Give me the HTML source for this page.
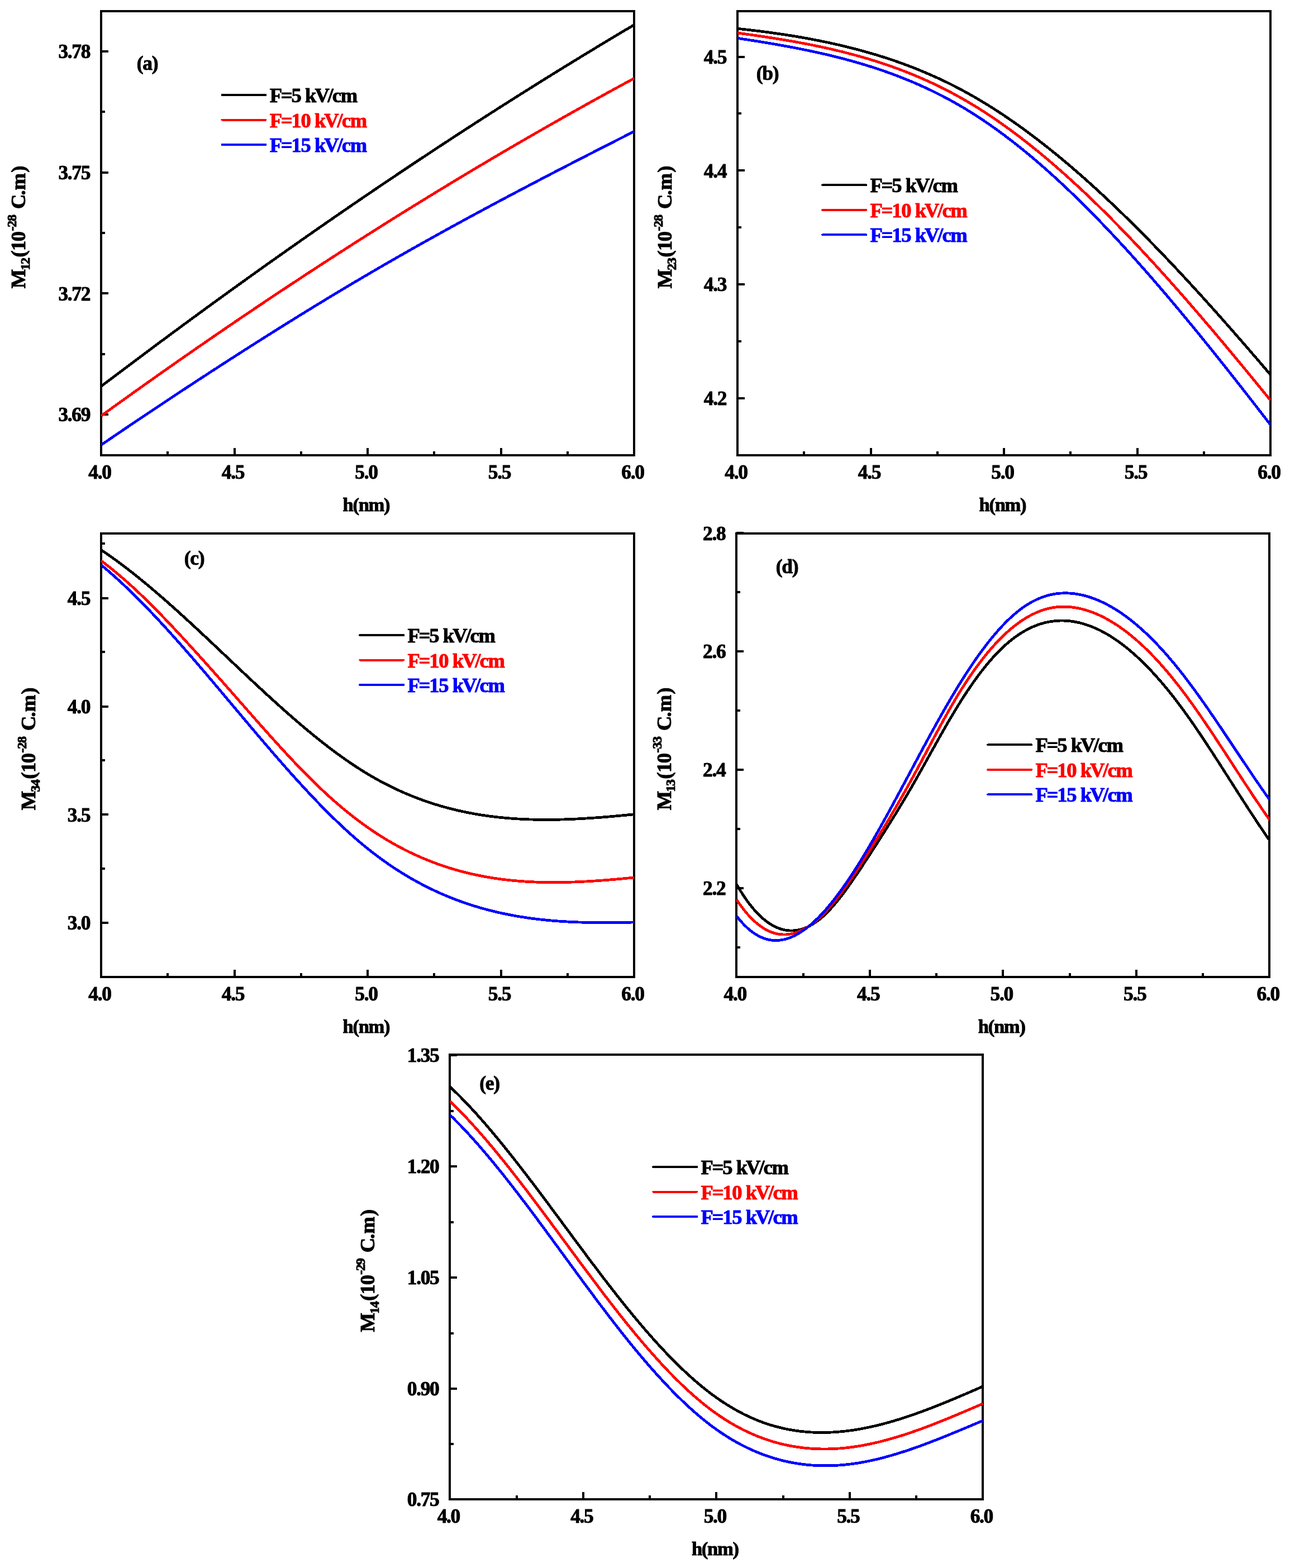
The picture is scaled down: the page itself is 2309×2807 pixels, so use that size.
<!DOCTYPE html>
<html lang="en"><head><meta charset="utf-8"><title>Dipole matrix elements versus h</title>
<style>
html,body{margin:0;padding:0;background:#fff;}
body{width:2309px;height:2807px;overflow:hidden;}
svg{display:block;}
text{font-family:"Liberation Serif", "DejaVu Serif", serif;font-weight:bold;font-size:36.5px;letter-spacing:-1.3px;fill:#000;stroke:#000;stroke-width:1;stroke-linejoin:round;}
.fr{fill:none;stroke:#000;stroke-width:4;shape-rendering:crispEdges;}
.tk{stroke:#000;stroke-width:4;shape-rendering:crispEdges;}
.cv{fill:none;stroke-width:4.8;stroke-linejoin:round;stroke-linecap:butt;shape-rendering:crispEdges;}
.lg{stroke-width:4;stroke-linecap:round;shape-rendering:crispEdges;}
.sm{font-size:24.09px;}
.t{font-size:35.4px;letter-spacing:-1.35px;}
.xl{font-size:34.6px;letter-spacing:-1.3px;}
.pl{font-size:35.5px;}
</style></head><body>
<svg width="2309" height="2807" viewBox="0 0 2309 2807">
<rect x="0" y="0" width="2309" height="2807" fill="#ffffff"/>
<g id="panel-a">
<clipPath id="clip-a"><rect x="180.5" y="20" width="955" height="795"/></clipPath>
<line class="tk" x1="181" y1="92" x2="194" y2="92"/>
<line class="tk" x1="181" y1="308.7" x2="194" y2="308.7"/>
<line class="tk" x1="181" y1="525.4" x2="194" y2="525.4"/>
<line class="tk" x1="181" y1="742" x2="194" y2="742"/>
<line class="tk" x1="181" y1="200.3" x2="188" y2="200.3"/>
<line class="tk" x1="181" y1="417" x2="188" y2="417"/>
<line class="tk" x1="181" y1="633.7" x2="188" y2="633.7"/>
<line class="tk" x1="181" y1="815" x2="181" y2="802"/>
<line class="tk" x1="300.25" y1="815" x2="300.25" y2="808"/>
<line class="tk" x1="419.5" y1="815" x2="419.5" y2="802"/>
<line class="tk" x1="538.75" y1="815" x2="538.75" y2="808"/>
<line class="tk" x1="658" y1="815" x2="658" y2="802"/>
<line class="tk" x1="777.25" y1="815" x2="777.25" y2="808"/>
<line class="tk" x1="896.5" y1="815" x2="896.5" y2="802"/>
<line class="tk" x1="1015.75" y1="815" x2="1015.75" y2="808"/>
<line class="tk" x1="1135" y1="815" x2="1135" y2="802"/>
<rect class="fr" x="181" y="20" width="954" height="795"/>
<g clip-path="url(#clip-a)">
<polyline class="cv" stroke="#000000" points="181,691.65 184.97,688.63 188.95,685.62 192.93,682.61 196.9,679.61 200.88,676.6 204.85,673.6 208.82,670.6 212.8,667.6 216.78,664.61 220.75,661.62 224.72,658.63 228.7,655.64 232.68,652.66 236.65,649.67 240.62,646.69 244.6,643.72 248.57,640.74 252.55,637.77 256.52,634.8 260.5,631.83 264.48,628.87 268.45,625.91 272.43,622.95 276.4,619.99 280.38,617.04 284.35,614.08 288.32,611.13 292.3,608.19 296.27,605.24 300.25,602.3 304.23,599.36 308.2,596.42 312.18,593.49 316.15,590.56 320.12,587.63 324.1,584.7 328.08,581.78 332.05,578.85 336.02,575.94 340,573.02 343.98,570.1 347.95,567.19 351.93,564.28 355.9,561.38 359.88,558.47 363.85,555.57 367.83,552.67 371.8,549.78 375.77,546.88 379.75,543.99 383.73,541.1 387.7,538.22 391.68,535.33 395.65,532.45 399.62,529.58 403.6,526.7 407.58,523.83 411.55,520.96 415.52,518.09 419.5,515.22 423.48,512.36 427.45,509.5 431.43,506.64 435.4,503.79 439.38,500.94 443.35,498.09 447.32,495.24 451.3,492.4 455.28,489.56 459.25,486.72 463.23,483.88 467.2,481.05 471.18,478.22 475.15,475.39 479.12,472.56 483.1,469.74 487.07,466.92 491.05,464.1 495.03,461.28 499,458.47 502.98,455.66 506.95,452.85 510.93,450.05 514.9,447.25 518.88,444.45 522.85,441.65 526.83,438.86 530.8,436.07 534.78,433.28 538.75,430.49 542.73,427.71 546.7,424.93 550.67,422.15 554.65,419.38 558.62,416.6 562.6,413.83 566.58,411.07 570.55,408.3 574.53,405.54 578.5,402.78 582.48,400.03 586.45,397.27 590.42,394.52 594.4,391.77 598.38,389.03 602.35,386.29 606.33,383.55 610.3,380.81 614.28,378.07 618.25,375.34 622.23,372.61 626.2,369.89 630.17,367.16 634.15,364.44 638.12,361.73 642.1,359.01 646.08,356.3 650.05,353.59 654.03,350.88 658,348.18 661.98,345.48 665.95,342.78 669.92,340.08 673.9,337.39 677.88,334.7 681.85,332.01 685.83,329.33 689.8,326.64 693.77,323.96 697.75,321.29 701.73,318.61 705.7,315.94 709.68,313.28 713.65,310.61 717.62,307.95 721.6,305.29 725.58,302.63 729.55,299.98 733.52,297.33 737.5,294.68 741.48,292.03 745.45,289.39 749.43,286.75 753.4,284.11 757.38,281.48 761.35,278.85 765.33,276.22 769.3,273.59 773.27,270.97 777.25,268.35 781.23,265.73 785.2,263.12 789.18,260.51 793.15,257.9 797.12,255.29 801.1,252.69 805.08,250.09 809.05,247.49 813.02,244.9 817,242.31 820.98,239.72 824.95,237.13 828.93,234.55 832.9,231.97 836.88,229.39 840.85,226.82 844.83,224.25 848.8,221.68 852.77,219.11 856.75,216.55 860.73,213.99 864.7,211.43 868.68,208.88 872.65,206.33 876.62,203.78 880.6,201.24 884.58,198.69 888.55,196.15 892.52,193.62 896.5,191.08 900.48,188.55 904.45,186.03 908.43,183.5 912.4,180.98 916.38,178.46 920.35,175.94 924.33,173.43 928.3,170.92 932.27,168.41 936.25,165.91 940.23,163.41 944.2,160.91 948.18,158.41 952.15,155.92 956.12,153.43 960.1,150.95 964.08,148.46 968.05,145.98 972.02,143.51 976,141.03 979.98,138.56 983.95,136.09 987.93,133.62 991.9,131.16 995.88,128.7 999.85,126.25 1003.83,123.79 1007.8,121.34 1011.77,118.89 1015.75,116.45 1019.73,114.01 1023.7,111.57 1027.68,109.13 1031.65,106.7 1035.62,104.27 1039.6,101.84 1043.58,99.42 1047.55,97 1051.53,94.58 1055.5,92.17 1059.47,89.76 1063.45,87.35 1067.43,84.94 1071.4,82.54 1075.38,80.14 1079.35,77.75 1083.33,75.35 1087.3,72.96 1091.28,70.57 1095.25,68.19 1099.22,65.81 1103.2,63.43 1107.18,61.06 1111.15,58.69 1115.12,56.32 1119.1,53.95 1123.08,51.59 1127.05,49.23 1131.03,46.87 1135,44.52"/>
<polyline class="cv" stroke="#ff0000" points="181,744.52 184.97,741.64 188.95,738.77 192.93,735.9 196.9,733.03 200.88,730.17 204.85,727.3 208.82,724.44 212.8,721.59 216.78,718.73 220.75,715.88 224.72,713.04 228.7,710.19 232.68,707.35 236.65,704.51 240.62,701.67 244.6,698.84 248.57,696.01 252.55,693.18 256.52,690.36 260.5,687.54 264.48,684.72 268.45,681.9 272.43,679.09 276.4,676.28 280.38,673.47 284.35,670.67 288.32,667.86 292.3,665.07 296.27,662.27 300.25,659.48 304.23,656.69 308.2,653.9 312.18,651.12 316.15,648.34 320.12,645.56 324.1,642.78 328.08,640.01 332.05,637.24 336.02,634.48 340,631.71 343.98,628.95 347.95,626.2 351.93,623.44 355.9,620.69 359.88,617.94 363.85,615.2 367.83,612.45 371.8,609.71 375.77,606.98 379.75,604.24 383.73,601.51 387.7,598.79 391.68,596.06 395.65,593.34 399.62,590.62 403.6,587.9 407.58,585.19 411.55,582.48 415.52,579.77 419.5,577.07 423.48,574.37 427.45,571.67 431.43,568.98 435.4,566.28 439.38,563.59 443.35,560.91 447.32,558.23 451.3,555.55 455.28,552.87 459.25,550.19 463.23,547.52 467.2,544.85 471.18,542.19 475.15,539.53 479.12,536.87 483.1,534.21 487.07,531.56 491.05,528.91 495.03,526.26 499,523.62 502.98,520.98 506.95,518.34 510.93,515.7 514.9,513.07 518.88,510.44 522.85,507.81 526.83,505.19 530.8,502.57 534.78,499.95 538.75,497.34 542.73,494.73 546.7,492.12 550.67,489.52 554.65,486.91 558.62,484.31 562.6,481.72 566.58,479.13 570.55,476.54 574.53,473.95 578.5,471.36 582.48,468.78 586.45,466.21 590.42,463.63 594.4,461.06 598.38,458.49 602.35,455.93 606.33,453.36 610.3,450.8 614.28,448.25 618.25,445.69 622.23,443.14 626.2,440.6 630.17,438.05 634.15,435.51 638.12,432.97 642.1,430.44 646.08,427.91 650.05,425.38 654.03,422.85 658,420.33 661.98,417.81 665.95,415.29 669.92,412.78 673.9,410.27 677.88,407.76 681.85,405.26 685.83,402.75 689.8,400.26 693.77,397.76 697.75,395.27 701.73,392.78 705.7,390.29 709.68,387.81 713.65,385.33 717.62,382.85 721.6,380.38 725.58,377.91 729.55,375.44 733.52,372.98 737.5,370.52 741.48,368.06 745.45,365.6 749.43,363.15 753.4,360.7 757.38,358.26 761.35,355.82 765.33,353.38 769.3,350.94 773.27,348.51 777.25,346.08 781.23,343.65 785.2,341.23 789.18,338.81 793.15,336.39 797.12,333.97 801.1,331.56 805.08,329.15 809.05,326.75 813.02,324.35 817,321.95 820.98,319.55 824.95,317.16 828.93,314.77 832.9,312.38 836.88,310 840.85,307.62 844.83,305.24 848.8,302.87 852.77,300.5 856.75,298.13 860.73,295.77 864.7,293.41 868.68,291.05 872.65,288.69 876.62,286.34 880.6,283.99 884.58,281.65 888.55,279.3 892.52,276.97 896.5,274.63 900.48,272.3 904.45,269.97 908.43,267.64 912.4,265.32 916.38,263 920.35,260.68 924.33,258.37 928.3,256.05 932.27,253.75 936.25,251.44 940.23,249.14 944.2,246.84 948.18,244.55 952.15,242.26 956.12,239.97 960.1,237.68 964.08,235.4 968.05,233.12 972.02,230.85 976,228.57 979.98,226.31 983.95,224.04 987.93,221.78 991.9,219.52 995.88,217.26 999.85,215.01 1003.83,212.76 1007.8,210.51 1011.77,208.27 1015.75,206.03 1019.73,203.79 1023.7,201.55 1027.68,199.32 1031.65,197.1 1035.62,194.87 1039.6,192.65 1043.58,190.43 1047.55,188.22 1051.53,186.01 1055.5,183.8 1059.47,181.59 1063.45,179.39 1067.43,177.19 1071.4,175 1075.38,172.8 1079.35,170.61 1083.33,168.43 1087.3,166.25 1091.28,164.07 1095.25,161.89 1099.22,159.72 1103.2,157.55 1107.18,155.38 1111.15,153.22 1115.12,151.06 1119.1,148.9 1123.08,146.75 1127.05,144.6 1131.03,142.45 1135,140.31"/>
<polyline class="cv" stroke="#0000ff" points="181,796.57 184.97,793.86 188.95,791.15 192.93,788.44 196.9,785.73 200.88,783.03 204.85,780.33 208.82,777.63 212.8,774.94 216.78,772.24 220.75,769.55 224.72,766.87 228.7,764.18 232.68,761.5 236.65,758.82 240.62,756.14 244.6,753.47 248.57,750.8 252.55,748.13 256.52,745.46 260.5,742.8 264.48,740.13 268.45,737.48 272.43,734.82 276.4,732.17 280.38,729.51 284.35,726.87 288.32,724.22 292.3,721.58 296.27,718.94 300.25,716.3 304.23,713.67 308.2,711.03 312.18,708.4 316.15,705.78 320.12,703.15 324.1,700.53 328.08,697.91 332.05,695.3 336.02,692.69 340,690.08 343.98,687.47 347.95,684.86 351.93,682.26 355.9,679.66 359.88,677.07 363.85,674.47 367.83,671.88 371.8,669.29 375.77,666.71 379.75,664.13 383.73,661.55 387.7,658.97 391.68,656.4 395.65,653.82 399.62,651.26 403.6,648.69 407.58,646.13 411.55,643.57 415.52,641.01 419.5,638.46 423.48,635.91 427.45,633.36 431.43,630.81 435.4,628.27 439.38,625.73 443.35,623.19 447.32,620.66 451.3,618.13 455.28,615.6 459.25,613.08 463.23,610.56 467.2,608.04 471.18,605.53 475.15,603.01 479.12,600.51 483.1,598 487.07,595.5 491.05,593 495.03,590.51 499,588.01 502.98,585.53 506.95,583.04 510.93,580.56 514.9,578.08 518.88,575.61 522.85,573.14 526.83,570.67 530.8,568.21 534.78,565.75 538.75,563.29 542.73,560.84 546.7,558.39 550.67,555.94 554.65,553.5 558.62,551.07 562.6,548.63 566.58,546.2 570.55,543.78 574.53,541.35 578.5,538.94 582.48,536.52 586.45,534.11 590.42,531.71 594.4,529.3 598.38,526.91 602.35,524.51 606.33,522.12 610.3,519.74 614.28,517.36 618.25,514.98 622.23,512.61 626.2,510.24 630.17,507.87 634.15,505.51 638.12,503.16 642.1,500.8 646.08,498.46 650.05,496.11 654.03,493.78 658,491.44 661.98,489.11 665.95,486.79 669.92,484.47 673.9,482.15 677.88,479.84 681.85,477.53 685.83,475.23 689.8,472.93 693.77,470.64 697.75,468.35 701.73,466.06 705.7,463.78 709.68,461.51 713.65,459.23 717.62,456.96 721.6,454.7 725.58,452.44 729.55,450.18 733.52,447.93 737.5,445.68 741.48,443.43 745.45,441.19 749.43,438.96 753.4,436.72 757.38,434.49 761.35,432.27 765.33,430.05 769.3,427.83 773.27,425.61 777.25,423.4 781.23,421.19 785.2,418.99 789.18,416.79 793.15,414.59 797.12,412.4 801.1,410.21 805.08,408.02 809.05,405.84 813.02,403.66 817,401.48 820.98,399.31 824.95,397.14 828.93,394.97 832.9,392.81 836.88,390.65 840.85,388.49 844.83,386.34 848.8,384.18 852.77,382.04 856.75,379.89 860.73,377.75 864.7,375.61 868.68,373.47 872.65,371.34 876.62,369.21 880.6,367.08 884.58,364.96 888.55,362.83 892.52,360.71 896.5,358.6 900.48,356.48 904.45,354.37 908.43,352.26 912.4,350.16 916.38,348.05 920.35,345.95 924.33,343.85 928.3,341.76 932.27,339.66 936.25,337.57 940.23,335.48 944.2,333.39 948.18,331.31 952.15,329.23 956.12,327.15 960.1,325.07 964.08,322.99 968.05,320.92 972.02,318.85 976,316.78 979.98,314.71 983.95,312.65 987.93,310.58 991.9,308.52 995.88,306.46 999.85,304.4 1003.83,302.35 1007.8,300.29 1011.77,298.24 1015.75,296.19 1019.73,294.14 1023.7,292.09 1027.68,290.05 1031.65,288 1035.62,285.96 1039.6,283.92 1043.58,281.88 1047.55,279.85 1051.53,277.81 1055.5,275.77 1059.47,273.74 1063.45,271.71 1067.43,269.68 1071.4,267.65 1075.38,265.62 1079.35,263.59 1083.33,261.57 1087.3,259.54 1091.28,257.52 1095.25,255.5 1099.22,253.48 1103.2,251.46 1107.18,249.44 1111.15,247.42 1115.12,245.41 1119.1,243.39 1123.08,241.37 1127.05,239.36 1131.03,237.35 1135,235.33"/>
</g>
<text class="t" x="161" y="104.1" text-anchor="end">3.78</text>
<text class="t" x="161" y="320.8" text-anchor="end">3.75</text>
<text class="t" x="161" y="537.5" text-anchor="end">3.72</text>
<text class="t" x="161" y="754.1" text-anchor="end">3.69</text>
<text class="t" x="178.4" y="857.3" text-anchor="middle">4.0</text>
<text class="t" x="416.9" y="857.3" text-anchor="middle">4.5</text>
<text class="t" x="655.4" y="857.3" text-anchor="middle">5.0</text>
<text class="t" x="893.9" y="857.3" text-anchor="middle">5.5</text>
<text class="t" x="1132.4" y="857.3" text-anchor="middle">6.0</text>
<text class="xl" x="655.4" y="914.8" text-anchor="middle">h(nm)</text>
<text transform="translate(45.3,516.3) rotate(-90)" x="0" y="0">M<tspan class="sm" dx="-0.6" dy="7.8">12</tspan><tspan dx="1.7 0.6" dy="-7.8">(10</tspan><tspan class="sm" dx="1.7" dy="-16.5">-28</tspan><tspan dx="3.4 0 -0.5 1.5 2.3" dy="16.5"> C.m)</tspan></text>
<text class="pl" x="263.5" y="125.3" text-anchor="middle">(a)</text>
<line class="lg" stroke="#000000" x1="397.5" y1="170" x2="475.5" y2="170"/>
<text x="482.8" y="183" dx="0 -1 -0.8 0 -0.3 -1.6 -2 -0.5 0" style="fill:#000000;stroke:#000000">F=5 kV/cm</text>
<line class="lg" stroke="#ff0000" x1="397.5" y1="214.5" x2="475.5" y2="214.5"/>
<text x="482.8" y="227.5" dx="0 -1 -0.8 0 0 -0.3 -1.6 -2 -0.5 0" style="fill:#ff0000;stroke:#ff0000">F=10 kV/cm</text>
<line class="lg" stroke="#0000ff" x1="397.5" y1="259" x2="475.5" y2="259"/>
<text x="482.8" y="272" dx="0 -1 -0.8 0 0 -0.3 -1.6 -2 -0.5 0" style="fill:#0000ff;stroke:#0000ff">F=15 kV/cm</text>
</g>
<g id="panel-b">
<clipPath id="clip-b"><rect x="1319.5" y="20" width="955" height="795"/></clipPath>
<line class="tk" x1="1320" y1="101.5" x2="1333" y2="101.5"/>
<line class="tk" x1="1320" y1="305.4" x2="1333" y2="305.4"/>
<line class="tk" x1="1320" y1="509.3" x2="1333" y2="509.3"/>
<line class="tk" x1="1320" y1="713.2" x2="1333" y2="713.2"/>
<line class="tk" x1="1320" y1="203.4" x2="1327" y2="203.4"/>
<line class="tk" x1="1320" y1="407.3" x2="1327" y2="407.3"/>
<line class="tk" x1="1320" y1="611.2" x2="1327" y2="611.2"/>
<line class="tk" x1="1320" y1="815" x2="1320" y2="802"/>
<line class="tk" x1="1439.25" y1="815" x2="1439.25" y2="808"/>
<line class="tk" x1="1558.5" y1="815" x2="1558.5" y2="802"/>
<line class="tk" x1="1677.75" y1="815" x2="1677.75" y2="808"/>
<line class="tk" x1="1797" y1="815" x2="1797" y2="802"/>
<line class="tk" x1="1916.25" y1="815" x2="1916.25" y2="808"/>
<line class="tk" x1="2035.5" y1="815" x2="2035.5" y2="802"/>
<line class="tk" x1="2154.75" y1="815" x2="2154.75" y2="808"/>
<line class="tk" x1="2274" y1="815" x2="2274" y2="802"/>
<rect class="fr" x="1320" y="20" width="954" height="795"/>
<g clip-path="url(#clip-b)">
<polyline class="cv" stroke="#000000" points="1320,51.29 1323.97,51.7 1327.95,52.12 1331.92,52.56 1335.9,53 1339.88,53.44 1343.85,53.9 1347.83,54.37 1351.8,54.84 1355.78,55.32 1359.75,55.82 1363.72,56.32 1367.7,56.83 1371.67,57.35 1375.65,57.88 1379.62,58.42 1383.6,58.97 1387.58,59.53 1391.55,60.1 1395.53,60.68 1399.5,61.27 1403.47,61.87 1407.45,62.48 1411.42,63.1 1415.4,63.74 1419.38,64.38 1423.35,65.04 1427.33,65.71 1431.3,66.39 1435.28,67.08 1439.25,67.79 1443.22,68.5 1447.2,69.23 1451.17,69.97 1455.15,70.73 1459.12,71.49 1463.1,72.27 1467.08,73.07 1471.05,73.87 1475.03,74.69 1479,75.52 1482.97,76.37 1486.95,77.23 1490.92,78.11 1494.9,78.99 1498.88,79.9 1502.85,80.81 1506.83,81.74 1510.8,82.69 1514.78,83.65 1518.75,84.63 1522.72,85.62 1526.7,86.63 1530.67,87.66 1534.65,88.7 1538.62,89.76 1542.6,90.84 1546.58,91.93 1550.55,93.04 1554.53,94.17 1558.5,95.32 1562.47,96.48 1566.45,97.67 1570.42,98.87 1574.4,100.09 1578.38,101.33 1582.35,102.6 1586.33,103.88 1590.3,105.18 1594.28,106.5 1598.25,107.84 1602.22,109.2 1606.2,110.59 1610.17,111.99 1614.15,113.42 1618.12,114.87 1622.1,116.34 1626.08,117.83 1630.05,119.35 1634.03,120.89 1638,122.45 1641.97,124.04 1645.95,125.65 1649.92,127.28 1653.9,128.94 1657.88,130.62 1661.85,132.33 1665.83,134.06 1669.8,135.82 1673.78,137.6 1677.75,139.41 1681.72,141.24 1685.7,143.1 1689.67,144.99 1693.65,146.9 1697.62,148.84 1701.6,150.81 1705.58,152.81 1709.55,154.83 1713.53,156.88 1717.5,158.96 1721.47,161.07 1725.45,163.21 1729.42,165.37 1733.4,167.57 1737.38,169.8 1741.35,172.05 1745.33,174.33 1749.3,176.65 1753.28,178.99 1757.25,181.36 1761.22,183.76 1765.2,186.19 1769.17,188.64 1773.15,191.12 1777.12,193.64 1781.1,196.18 1785.08,198.74 1789.05,201.34 1793.03,203.96 1797,206.61 1800.97,209.28 1804.95,211.99 1808.92,214.72 1812.9,217.47 1816.88,220.25 1820.85,223.06 1824.83,225.9 1828.8,228.75 1832.78,231.64 1836.75,234.55 1840.72,237.49 1844.7,240.45 1848.68,243.43 1852.65,246.44 1856.62,249.48 1860.6,252.54 1864.58,255.62 1868.55,258.73 1872.53,261.86 1876.5,265.01 1880.47,268.19 1884.45,271.39 1888.43,274.62 1892.4,277.86 1896.38,281.13 1900.35,284.43 1904.33,287.74 1908.3,291.08 1912.28,294.44 1916.25,297.82 1920.22,301.23 1924.2,304.65 1928.18,308.1 1932.15,311.57 1936.12,315.06 1940.1,318.57 1944.08,322.1 1948.05,325.65 1952.03,329.22 1956,332.81 1959.97,336.42 1963.95,340.06 1967.93,343.71 1971.9,347.38 1975.88,351.07 1979.85,354.78 1983.83,358.51 1987.8,362.26 1991.78,366.03 1995.75,369.81 1999.72,373.62 2003.7,377.44 2007.68,381.28 2011.65,385.14 2015.62,389.01 2019.6,392.91 2023.58,396.82 2027.55,400.74 2031.53,404.69 2035.5,408.65 2039.47,412.63 2043.45,416.62 2047.43,420.64 2051.4,424.66 2055.38,428.71 2059.35,432.77 2063.32,436.84 2067.3,440.93 2071.28,445.04 2075.25,449.16 2079.22,453.29 2083.2,457.44 2087.18,461.61 2091.15,465.79 2095.12,469.98 2099.1,474.19 2103.07,478.42 2107.05,482.65 2111.03,486.9 2115,491.16 2118.97,495.44 2122.95,499.73 2126.93,504.03 2130.9,508.35 2134.88,512.68 2138.85,517.02 2142.82,521.37 2146.8,525.73 2150.78,530.11 2154.75,534.5 2158.72,538.9 2162.7,543.31 2166.68,547.73 2170.65,552.17 2174.62,556.61 2178.6,561.07 2182.57,565.53 2186.55,570.01 2190.53,574.49 2194.5,578.99 2198.47,583.5 2202.45,588.01 2206.43,592.54 2210.4,597.07 2214.38,601.62 2218.35,606.17 2222.32,610.73 2226.3,615.31 2230.28,619.88 2234.25,624.47 2238.22,629.07 2242.2,633.67 2246.18,638.28 2250.15,642.9 2254.12,647.53 2258.1,652.16 2262.07,656.81 2266.05,661.45 2270.03,666.11 2274,670.77"/>
<polyline class="cv" stroke="#ff0000" points="1320,58.95 1323.97,59.49 1327.95,60.04 1331.92,60.59 1335.9,61.15 1339.88,61.71 1343.85,62.27 1347.83,62.84 1351.8,63.42 1355.78,64 1359.75,64.58 1363.72,65.17 1367.7,65.77 1371.67,66.37 1375.65,66.98 1379.62,67.6 1383.6,68.22 1387.58,68.85 1391.55,69.49 1395.53,70.14 1399.5,70.79 1403.47,71.46 1407.45,72.13 1411.42,72.81 1415.4,73.5 1419.38,74.2 1423.35,74.91 1427.33,75.63 1431.3,76.36 1435.28,77.1 1439.25,77.85 1443.22,78.62 1447.2,79.39 1451.17,80.18 1455.15,80.98 1459.12,81.79 1463.1,82.61 1467.08,83.44 1471.05,84.29 1475.03,85.16 1479,86.03 1482.97,86.92 1486.95,87.82 1490.92,88.74 1494.9,89.67 1498.88,90.62 1502.85,91.58 1506.83,92.56 1510.8,93.55 1514.78,94.56 1518.75,95.59 1522.72,96.63 1526.7,97.69 1530.67,98.77 1534.65,99.86 1538.62,100.97 1542.6,102.1 1546.58,103.25 1550.55,104.41 1554.53,105.6 1558.5,106.8 1562.47,108.02 1566.45,109.26 1570.42,110.53 1574.4,111.81 1578.38,113.11 1582.35,114.43 1586.33,115.78 1590.3,117.14 1594.28,118.53 1598.25,119.94 1602.22,121.37 1606.2,122.82 1610.17,124.29 1614.15,125.79 1618.12,127.32 1622.1,128.86 1626.08,130.43 1630.05,132.02 1634.03,133.64 1638,135.29 1641.97,136.95 1645.95,138.65 1649.92,140.37 1653.9,142.11 1657.88,143.88 1661.85,145.68 1665.83,147.51 1669.8,149.36 1673.78,151.24 1677.75,153.14 1681.72,155.08 1685.7,157.04 1689.67,159.03 1693.65,161.06 1697.62,163.11 1701.6,165.19 1705.58,167.29 1709.55,169.43 1713.53,171.6 1717.5,173.8 1721.47,176.04 1725.45,178.3 1729.42,180.59 1733.4,182.92 1737.38,185.28 1741.35,187.67 1745.33,190.09 1749.3,192.54 1753.28,195.03 1757.25,197.55 1761.22,200.09 1765.2,202.67 1769.17,205.28 1773.15,207.92 1777.12,210.59 1781.1,213.29 1785.08,216.02 1789.05,218.78 1793.03,221.56 1797,224.38 1800.97,227.23 1804.95,230.1 1808.92,233.01 1812.9,235.94 1816.88,238.9 1820.85,241.89 1824.83,244.91 1828.8,247.95 1832.78,251.02 1836.75,254.12 1840.72,257.25 1844.7,260.4 1848.68,263.58 1852.65,266.79 1856.62,270.02 1860.6,273.28 1864.58,276.57 1868.55,279.88 1872.53,283.21 1876.5,286.57 1880.47,289.96 1884.45,293.37 1888.43,296.81 1892.4,300.27 1896.38,303.75 1900.35,307.26 1904.33,310.79 1908.3,314.35 1912.28,317.93 1916.25,321.53 1920.22,325.16 1924.2,328.81 1928.18,332.48 1932.15,336.18 1936.12,339.89 1940.1,343.63 1944.08,347.39 1948.05,351.18 1952.03,354.98 1956,358.81 1959.97,362.65 1963.95,366.52 1967.93,370.41 1971.9,374.32 1975.88,378.25 1979.85,382.2 1983.83,386.17 1987.8,390.16 1991.78,394.17 1995.75,398.2 1999.72,402.24 2003.7,406.31 2007.68,410.4 2011.65,414.5 2015.62,418.62 2019.6,422.76 2023.58,426.92 2027.55,431.1 2031.53,435.29 2035.5,439.5 2039.47,443.73 2043.45,447.98 2047.43,452.24 2051.4,456.52 2055.38,460.82 2059.35,465.13 2063.32,469.46 2067.3,473.8 2071.28,478.16 2075.25,482.53 2079.22,486.92 2083.2,491.33 2087.18,495.75 2091.15,500.18 2095.12,504.63 2099.1,509.09 2103.07,513.57 2107.05,518.06 2111.03,522.57 2115,527.09 2118.97,531.62 2122.95,536.16 2126.93,540.72 2130.9,545.29 2134.88,549.87 2138.85,554.47 2142.82,559.07 2146.8,563.69 2150.78,568.32 2154.75,572.97 2158.72,577.62 2162.7,582.28 2166.68,586.96 2170.65,591.64 2174.62,596.34 2178.6,601.05 2182.57,605.76 2186.55,610.49 2190.53,615.23 2194.5,619.97 2198.47,624.73 2202.45,629.49 2206.43,634.27 2210.4,639.05 2214.38,643.84 2218.35,648.64 2222.32,653.45 2226.3,658.26 2230.28,663.08 2234.25,667.91 2238.22,672.75 2242.2,677.6 2246.18,682.45 2250.15,687.31 2254.12,692.17 2258.1,697.04 2262.07,701.92 2266.05,706.8 2270.03,711.69 2274,716.59"/>
<polyline class="cv" stroke="#0000ff" points="1320,68.34 1323.97,68.95 1327.95,69.56 1331.92,70.17 1335.9,70.79 1339.88,71.41 1343.85,72.03 1347.83,72.66 1351.8,73.29 1355.78,73.93 1359.75,74.57 1363.72,75.22 1367.7,75.88 1371.67,76.54 1375.65,77.2 1379.62,77.87 1383.6,78.55 1387.58,79.24 1391.55,79.93 1395.53,80.64 1399.5,81.35 1403.47,82.06 1407.45,82.79 1411.42,83.52 1415.4,84.27 1419.38,85.02 1423.35,85.78 1427.33,86.55 1431.3,87.34 1435.28,88.13 1439.25,88.93 1443.22,89.75 1447.2,90.57 1451.17,91.41 1455.15,92.26 1459.12,93.12 1463.1,93.99 1467.08,94.88 1471.05,95.77 1475.03,96.68 1479,97.61 1482.97,98.55 1486.95,99.5 1490.92,100.47 1494.9,101.45 1498.88,102.44 1502.85,103.45 1506.83,104.48 1510.8,105.52 1514.78,106.58 1518.75,107.65 1522.72,108.74 1526.7,109.85 1530.67,110.97 1534.65,112.11 1538.62,113.27 1542.6,114.44 1546.58,115.64 1550.55,116.85 1554.53,118.08 1558.5,119.33 1562.47,120.6 1566.45,121.88 1570.42,123.19 1574.4,124.52 1578.38,125.87 1582.35,127.24 1586.33,128.63 1590.3,130.04 1594.28,131.48 1598.25,132.93 1602.22,134.41 1606.2,135.92 1610.17,137.44 1614.15,138.99 1618.12,140.57 1622.1,142.17 1626.08,143.79 1630.05,145.44 1634.03,147.11 1638,148.81 1641.97,150.54 1645.95,152.29 1649.92,154.07 1653.9,155.87 1657.88,157.71 1661.85,159.57 1665.83,161.46 1669.8,163.38 1673.78,165.33 1677.75,167.31 1681.72,169.31 1685.7,171.35 1689.67,173.42 1693.65,175.52 1697.62,177.64 1701.6,179.81 1705.58,182 1709.55,184.22 1713.53,186.48 1717.5,188.77 1721.47,191.09 1725.45,193.45 1729.42,195.84 1733.4,198.26 1737.38,200.72 1741.35,203.22 1745.33,205.74 1749.3,208.3 1753.28,210.9 1757.25,213.53 1761.22,216.19 1765.2,218.89 1769.17,221.62 1773.15,224.38 1777.12,227.17 1781.1,230 1785.08,232.85 1789.05,235.74 1793.03,238.67 1797,241.62 1800.97,244.6 1804.95,247.62 1808.92,250.66 1812.9,253.74 1816.88,256.85 1820.85,259.98 1824.83,263.15 1828.8,266.35 1832.78,269.57 1836.75,272.83 1840.72,276.11 1844.7,279.43 1848.68,282.77 1852.65,286.14 1856.62,289.54 1860.6,292.96 1864.58,296.42 1868.55,299.9 1872.53,303.41 1876.5,306.94 1880.47,310.51 1884.45,314.1 1888.43,317.71 1892.4,321.35 1896.38,325.02 1900.35,328.72 1904.33,332.44 1908.3,336.18 1912.28,339.95 1916.25,343.75 1920.22,347.57 1924.2,351.41 1928.18,355.28 1932.15,359.17 1936.12,363.09 1940.1,367.03 1944.08,370.99 1948.05,374.98 1952.03,378.99 1956,383.02 1959.97,387.08 1963.95,391.16 1967.93,395.26 1971.9,399.38 1975.88,403.52 1979.85,407.69 1983.83,411.87 1987.8,416.08 1991.78,420.31 1995.75,424.56 1999.72,428.83 2003.7,433.12 2007.68,437.43 2011.65,441.76 2015.62,446.1 2019.6,450.47 2023.58,454.86 2027.55,459.27 2031.53,463.69 2035.5,468.13 2039.47,472.6 2043.45,477.08 2047.43,481.57 2051.4,486.09 2055.38,490.62 2059.35,495.17 2063.32,499.74 2067.3,504.32 2071.28,508.92 2075.25,513.54 2079.22,518.17 2083.2,522.82 2087.18,527.48 2091.15,532.16 2095.12,536.86 2099.1,541.57 2103.07,546.29 2107.05,551.03 2111.03,555.78 2115,560.55 2118.97,565.33 2122.95,570.13 2126.93,574.94 2130.9,579.76 2134.88,584.59 2138.85,589.44 2142.82,594.3 2146.8,599.18 2150.78,604.06 2154.75,608.96 2158.72,613.87 2162.7,618.79 2166.68,623.72 2170.65,628.67 2174.62,633.62 2178.6,638.59 2182.57,643.56 2186.55,648.55 2190.53,653.54 2194.5,658.55 2198.47,663.57 2202.45,668.59 2206.43,673.62 2210.4,678.67 2214.38,683.72 2218.35,688.78 2222.32,693.85 2226.3,698.93 2230.28,704.01 2234.25,709.1 2238.22,714.2 2242.2,719.31 2246.18,724.43 2250.15,729.55 2254.12,734.67 2258.1,739.81 2262.07,744.95 2266.05,750.1 2270.03,755.25 2274,760.41"/>
</g>
<text class="t" x="1300" y="113.6" text-anchor="end">4.5</text>
<text class="t" x="1300" y="317.5" text-anchor="end">4.4</text>
<text class="t" x="1300" y="521.4" text-anchor="end">4.3</text>
<text class="t" x="1300" y="725.3" text-anchor="end">4.2</text>
<text class="t" x="1317.4" y="857.3" text-anchor="middle">4.0</text>
<text class="t" x="1555.9" y="857.3" text-anchor="middle">4.5</text>
<text class="t" x="1794.4" y="857.3" text-anchor="middle">5.0</text>
<text class="t" x="2032.9" y="857.3" text-anchor="middle">5.5</text>
<text class="t" x="2271.4" y="857.3" text-anchor="middle">6.0</text>
<text class="xl" x="1794.4" y="914.8" text-anchor="middle">h(nm)</text>
<text transform="translate(1202.4,516.3) rotate(-90)" x="0" y="0">M<tspan class="sm" dx="-0.6" dy="7.8">23</tspan><tspan dx="1.7 0.6" dy="-7.8">(10</tspan><tspan class="sm" dx="1.7" dy="-16.5">-28</tspan><tspan dx="3.4 0 -0.5 1.5 2.3" dy="16.5"> C.m)</tspan></text>
<text class="pl" x="1373.5" y="142.8" text-anchor="middle">(b)</text>
<line class="lg" stroke="#000000" x1="1472.2" y1="331.4" x2="1550.2" y2="331.4"/>
<text x="1557.5" y="344.4" dx="0 -1 -0.8 0 -0.3 -1.6 -2 -0.5 0" style="fill:#000000;stroke:#000000">F=5 kV/cm</text>
<line class="lg" stroke="#ff0000" x1="1472.2" y1="375.9" x2="1550.2" y2="375.9"/>
<text x="1557.5" y="388.9" dx="0 -1 -0.8 0 0 -0.3 -1.6 -2 -0.5 0" style="fill:#ff0000;stroke:#ff0000">F=10 kV/cm</text>
<line class="lg" stroke="#0000ff" x1="1472.2" y1="420.4" x2="1550.2" y2="420.4"/>
<text x="1557.5" y="433.4" dx="0 -1 -0.8 0 0 -0.3 -1.6 -2 -0.5 0" style="fill:#0000ff;stroke:#0000ff">F=15 kV/cm</text>
</g>
<g id="panel-c">
<clipPath id="clip-c"><rect x="180.5" y="954.5" width="955" height="794.5"/></clipPath>
<line class="tk" x1="181" y1="1070.6" x2="194" y2="1070.6"/>
<line class="tk" x1="181" y1="1264.5" x2="194" y2="1264.5"/>
<line class="tk" x1="181" y1="1458.4" x2="194" y2="1458.4"/>
<line class="tk" x1="181" y1="1652.3" x2="194" y2="1652.3"/>
<line class="tk" x1="181" y1="973.2" x2="188" y2="973.2"/>
<line class="tk" x1="181" y1="1167.4" x2="188" y2="1167.4"/>
<line class="tk" x1="181" y1="1361.4" x2="188" y2="1361.4"/>
<line class="tk" x1="181" y1="1555.4" x2="188" y2="1555.4"/>
<line class="tk" x1="181" y1="1749" x2="181" y2="1736"/>
<line class="tk" x1="300.25" y1="1749" x2="300.25" y2="1742"/>
<line class="tk" x1="419.5" y1="1749" x2="419.5" y2="1736"/>
<line class="tk" x1="538.75" y1="1749" x2="538.75" y2="1742"/>
<line class="tk" x1="658" y1="1749" x2="658" y2="1736"/>
<line class="tk" x1="777.25" y1="1749" x2="777.25" y2="1742"/>
<line class="tk" x1="896.5" y1="1749" x2="896.5" y2="1736"/>
<line class="tk" x1="1015.75" y1="1749" x2="1015.75" y2="1742"/>
<line class="tk" x1="1135" y1="1749" x2="1135" y2="1736"/>
<rect class="fr" x="181" y="954.5" width="954" height="794.5"/>
<g clip-path="url(#clip-c)">
<polyline class="cv" stroke="#000000" points="181,984.46 184.97,987.13 188.95,989.84 192.93,992.58 196.9,995.37 200.88,998.19 204.85,1001.04 208.82,1003.93 212.8,1006.85 216.78,1009.81 220.75,1012.8 224.72,1015.82 228.7,1018.87 232.68,1021.96 236.65,1025.07 240.62,1028.21 244.6,1031.39 248.57,1034.59 252.55,1037.81 256.52,1041.07 260.5,1044.35 264.48,1047.65 268.45,1050.98 272.43,1054.34 276.4,1057.72 280.38,1061.11 284.35,1064.54 288.32,1067.98 292.3,1071.44 296.27,1074.93 300.25,1078.43 304.23,1081.95 308.2,1085.49 312.18,1089.04 316.15,1092.61 320.12,1096.2 324.1,1099.8 328.08,1103.42 332.05,1107.05 336.02,1110.69 340,1114.35 343.98,1118.01 347.95,1121.69 351.93,1125.38 355.9,1129.08 359.88,1132.78 363.85,1136.5 367.83,1140.22 371.8,1143.95 375.77,1147.68 379.75,1151.42 383.73,1155.16 387.7,1158.91 391.68,1162.66 395.65,1166.42 399.62,1170.17 403.6,1173.93 407.58,1177.69 411.55,1181.45 415.52,1185.2 419.5,1188.96 423.48,1192.71 427.45,1196.46 431.43,1200.21 435.4,1203.95 439.38,1207.69 443.35,1211.42 447.32,1215.15 451.3,1218.86 455.28,1222.58 459.25,1226.28 463.23,1229.97 467.2,1233.65 471.18,1237.33 475.15,1240.99 479.12,1244.64 483.1,1248.28 487.07,1251.9 491.05,1255.51 495.03,1259.11 499,1262.69 502.98,1266.25 506.95,1269.8 510.93,1273.33 514.9,1276.84 518.88,1280.34 522.85,1283.81 526.83,1287.27 530.8,1290.7 534.78,1294.11 538.75,1297.5 542.73,1300.87 546.7,1304.22 550.67,1307.54 554.65,1310.83 558.62,1314.1 562.6,1317.34 566.58,1320.56 570.55,1323.75 574.53,1326.91 578.5,1330.04 582.48,1333.14 586.45,1336.21 590.42,1339.25 594.4,1342.26 598.38,1345.23 602.35,1348.18 606.33,1351.09 610.3,1353.96 614.28,1356.8 618.25,1359.6 622.23,1362.37 626.2,1365.1 630.17,1367.79 634.15,1370.44 638.12,1373.06 642.1,1375.63 646.08,1378.16 650.05,1380.66 654.03,1383.1 658,1385.51 661.98,1387.88 665.95,1390.2 669.92,1392.48 673.9,1394.72 677.88,1396.91 681.85,1399.07 685.83,1401.18 689.8,1403.26 693.77,1405.29 697.75,1407.29 701.73,1409.24 705.7,1411.16 709.68,1413.03 713.65,1414.87 717.62,1416.67 721.6,1418.44 725.58,1420.16 729.55,1421.85 733.52,1423.5 737.5,1425.12 741.48,1426.7 745.45,1428.24 749.43,1429.75 753.4,1431.22 757.38,1432.65 761.35,1434.06 765.33,1435.43 769.3,1436.76 773.27,1438.06 777.25,1439.33 781.23,1440.56 785.2,1441.76 789.18,1442.93 793.15,1444.07 797.12,1445.18 801.1,1446.25 805.08,1447.3 809.05,1448.31 813.02,1449.29 817,1450.24 820.98,1451.17 824.95,1452.06 828.93,1452.92 832.9,1453.76 836.88,1454.57 840.85,1455.34 844.83,1456.1 848.8,1456.82 852.77,1457.52 856.75,1458.19 860.73,1458.83 864.7,1459.45 868.68,1460.04 872.65,1460.6 876.62,1461.14 880.6,1461.66 884.58,1462.15 888.55,1462.62 892.52,1463.06 896.5,1463.48 900.48,1463.88 904.45,1464.25 908.43,1464.6 912.4,1464.93 916.38,1465.23 920.35,1465.52 924.33,1465.78 928.3,1466.03 932.27,1466.25 936.25,1466.45 940.23,1466.63 944.2,1466.79 948.18,1466.93 952.15,1467.06 956.12,1467.16 960.1,1467.25 964.08,1467.32 968.05,1467.37 972.02,1467.4 976,1467.42 979.98,1467.42 983.95,1467.4 987.93,1467.36 991.9,1467.32 995.88,1467.25 999.85,1467.17 1003.83,1467.08 1007.8,1466.97 1011.77,1466.84 1015.75,1466.71 1019.73,1466.56 1023.7,1466.39 1027.68,1466.21 1031.65,1466.02 1035.62,1465.82 1039.6,1465.61 1043.58,1465.38 1047.55,1465.15 1051.53,1464.9 1055.5,1464.64 1059.47,1464.37 1063.45,1464.09 1067.43,1463.81 1071.4,1463.51 1075.38,1463.2 1079.35,1462.89 1083.33,1462.56 1087.3,1462.23 1091.28,1461.89 1095.25,1461.55 1099.22,1461.19 1103.2,1460.83 1107.18,1460.47 1111.15,1460.09 1115.12,1459.71 1119.1,1459.33 1123.08,1458.94 1127.05,1458.55 1131.03,1458.15 1135,1457.75"/>
<polyline class="cv" stroke="#ff0000" points="181,1003.88 184.97,1006.83 188.95,1009.83 192.93,1012.9 196.9,1016.02 200.88,1019.2 204.85,1022.43 208.82,1025.72 212.8,1029.06 216.78,1032.44 220.75,1035.88 224.72,1039.36 228.7,1042.9 232.68,1046.47 236.65,1050.09 240.62,1053.76 244.6,1057.46 248.57,1061.21 252.55,1065 256.52,1068.82 260.5,1072.68 264.48,1076.58 268.45,1080.51 272.43,1084.47 276.4,1088.47 280.38,1092.5 284.35,1096.55 288.32,1100.64 292.3,1104.75 296.27,1108.89 300.25,1113.06 304.23,1117.24 308.2,1121.45 312.18,1125.68 316.15,1129.93 320.12,1134.2 324.1,1138.49 328.08,1142.79 332.05,1147.11 336.02,1151.44 340,1155.78 343.98,1160.14 347.95,1164.51 351.93,1168.89 355.9,1173.28 359.88,1177.68 363.85,1182.09 367.83,1186.51 371.8,1190.95 375.77,1195.39 379.75,1199.84 383.73,1204.3 387.7,1208.77 391.68,1213.24 395.65,1217.72 399.62,1222.21 403.6,1226.71 407.58,1231.22 411.55,1235.73 415.52,1240.24 419.5,1244.76 423.48,1249.29 427.45,1253.81 431.43,1258.34 435.4,1262.87 439.38,1267.4 443.35,1271.93 447.32,1276.45 451.3,1280.97 455.28,1285.48 459.25,1289.99 463.23,1294.48 467.2,1298.97 471.18,1303.45 475.15,1307.92 479.12,1312.37 483.1,1316.81 487.07,1321.23 491.05,1325.64 495.03,1330.03 499,1334.4 502.98,1338.75 506.95,1343.08 510.93,1347.39 514.9,1351.67 518.88,1355.92 522.85,1360.16 526.83,1364.36 530.8,1368.53 534.78,1372.68 538.75,1376.79 542.73,1380.87 546.7,1384.92 550.67,1388.94 554.65,1392.91 558.62,1396.85 562.6,1400.76 566.58,1404.62 570.55,1408.44 574.53,1412.22 578.5,1415.96 582.48,1419.65 586.45,1423.3 590.42,1426.9 594.4,1430.46 598.38,1433.98 602.35,1437.45 606.33,1440.87 610.3,1444.25 614.28,1447.59 618.25,1450.87 622.23,1454.12 626.2,1457.31 630.17,1460.46 634.15,1463.56 638.12,1466.61 642.1,1469.61 646.08,1472.57 650.05,1475.48 654.03,1478.34 658,1481.15 661.98,1483.91 665.95,1486.62 669.92,1489.29 673.9,1491.91 677.88,1494.48 681.85,1497 685.83,1499.48 689.8,1501.91 693.77,1504.29 697.75,1506.63 701.73,1508.93 705.7,1511.17 709.68,1513.38 713.65,1515.54 717.62,1517.66 721.6,1519.73 725.58,1521.76 729.55,1523.75 733.52,1525.7 737.5,1527.6 741.48,1529.47 745.45,1531.29 749.43,1533.07 753.4,1534.81 757.38,1536.52 761.35,1538.18 765.33,1539.8 769.3,1541.39 773.27,1542.93 777.25,1544.44 781.23,1545.91 785.2,1547.34 789.18,1548.74 793.15,1550.1 797.12,1551.42 801.1,1552.71 805.08,1553.96 809.05,1555.18 813.02,1556.36 817,1557.51 820.98,1558.62 824.95,1559.7 828.93,1560.75 832.9,1561.76 836.88,1562.75 840.85,1563.7 844.83,1564.61 848.8,1565.5 852.77,1566.36 856.75,1567.18 860.73,1567.98 864.7,1568.74 868.68,1569.48 872.65,1570.18 876.62,1570.86 880.6,1571.51 884.58,1572.13 888.55,1572.72 892.52,1573.29 896.5,1573.83 900.48,1574.34 904.45,1574.83 908.43,1575.29 912.4,1575.73 916.38,1576.14 920.35,1576.52 924.33,1576.88 928.3,1577.22 932.27,1577.53 936.25,1577.82 940.23,1578.09 944.2,1578.34 948.18,1578.56 952.15,1578.76 956.12,1578.94 960.1,1579.1 964.08,1579.24 968.05,1579.36 972.02,1579.46 976,1579.53 979.98,1579.59 983.95,1579.64 987.93,1579.66 991.9,1579.66 995.88,1579.65 999.85,1579.62 1003.83,1579.57 1007.8,1579.51 1011.77,1579.43 1015.75,1579.33 1019.73,1579.22 1023.7,1579.1 1027.68,1578.96 1031.65,1578.8 1035.62,1578.63 1039.6,1578.45 1043.58,1578.25 1047.55,1578.04 1051.53,1577.82 1055.5,1577.59 1059.47,1577.35 1063.45,1577.09 1067.43,1576.82 1071.4,1576.55 1075.38,1576.26 1079.35,1575.96 1083.33,1575.65 1087.3,1575.34 1091.28,1575.01 1095.25,1574.68 1099.22,1574.34 1103.2,1573.99 1107.18,1573.63 1111.15,1573.27 1115.12,1572.9 1119.1,1572.52 1123.08,1572.14 1127.05,1571.75 1131.03,1571.36 1135,1570.97"/>
<polyline class="cv" stroke="#0000ff" points="181,1011.34 184.97,1014.63 188.95,1017.98 192.93,1021.37 196.9,1024.81 200.88,1028.3 204.85,1031.83 208.82,1035.4 212.8,1039.02 216.78,1042.68 220.75,1046.38 224.72,1050.13 228.7,1053.91 232.68,1057.74 236.65,1061.6 240.62,1065.5 244.6,1069.43 248.57,1073.41 252.55,1077.41 256.52,1081.46 260.5,1085.53 264.48,1089.64 268.45,1093.78 272.43,1097.95 276.4,1102.15 280.38,1106.38 284.35,1110.64 288.32,1114.93 292.3,1119.24 296.27,1123.58 300.25,1127.94 304.23,1132.33 308.2,1136.74 312.18,1141.18 316.15,1145.63 320.12,1150.11 324.1,1154.61 328.08,1159.13 332.05,1163.66 336.02,1168.21 340,1172.78 343.98,1177.37 347.95,1181.97 351.93,1186.59 355.9,1191.22 359.88,1195.86 363.85,1200.51 367.83,1205.17 371.8,1209.85 375.77,1214.53 379.75,1219.23 383.73,1223.93 387.7,1228.63 391.68,1233.34 395.65,1238.06 399.62,1242.79 403.6,1247.51 407.58,1252.24 411.55,1256.97 415.52,1261.7 419.5,1266.43 423.48,1271.16 427.45,1275.89 431.43,1280.62 435.4,1285.34 439.38,1290.06 443.35,1294.78 447.32,1299.49 451.3,1304.19 455.28,1308.88 459.25,1313.57 463.23,1318.25 467.2,1322.92 471.18,1327.58 475.15,1332.22 479.12,1336.85 483.1,1341.48 487.07,1346.08 491.05,1350.67 495.03,1355.25 499,1359.81 502.98,1364.35 506.95,1368.88 510.93,1373.38 514.9,1377.87 518.88,1382.33 522.85,1386.77 526.83,1391.19 530.8,1395.59 534.78,1399.97 538.75,1404.31 542.73,1408.64 546.7,1412.93 550.67,1417.2 554.65,1421.44 558.62,1425.66 562.6,1429.84 566.58,1433.99 570.55,1438.11 574.53,1442.2 578.5,1446.25 582.48,1450.27 586.45,1454.26 590.42,1458.21 594.4,1462.12 598.38,1466 602.35,1469.84 606.33,1473.64 610.3,1477.4 614.28,1481.11 618.25,1484.79 622.23,1488.43 626.2,1492.02 630.17,1495.57 634.15,1499.07 638.12,1502.53 642.1,1505.94 646.08,1509.3 650.05,1512.61 654.03,1515.88 658,1519.1 661.98,1522.26 665.95,1525.38 669.92,1528.45 673.9,1531.47 677.88,1534.44 681.85,1537.36 685.83,1540.24 689.8,1543.07 693.77,1545.85 697.75,1548.59 701.73,1551.28 705.7,1553.92 709.68,1556.52 713.65,1559.07 717.62,1561.58 721.6,1564.05 725.58,1566.47 729.55,1568.85 733.52,1571.18 737.5,1573.47 741.48,1575.72 745.45,1577.93 749.43,1580.1 753.4,1582.22 757.38,1584.31 761.35,1586.35 765.33,1588.35 769.3,1590.32 773.27,1592.24 777.25,1594.13 781.23,1595.98 785.2,1597.78 789.18,1599.56 793.15,1601.29 797.12,1602.99 801.1,1604.65 805.08,1606.27 809.05,1607.86 813.02,1609.41 817,1610.92 820.98,1612.41 824.95,1613.85 828.93,1615.27 832.9,1616.65 836.88,1617.99 840.85,1619.3 844.83,1620.59 848.8,1621.83 852.77,1623.05 856.75,1624.23 860.73,1625.39 864.7,1626.51 868.68,1627.6 872.65,1628.66 876.62,1629.7 880.6,1630.7 884.58,1631.67 888.55,1632.62 892.52,1633.54 896.5,1634.43 900.48,1635.29 904.45,1636.12 908.43,1636.93 912.4,1637.72 916.38,1638.47 920.35,1639.2 924.33,1639.91 928.3,1640.59 932.27,1641.24 936.25,1641.88 940.23,1642.49 944.2,1643.07 948.18,1643.63 952.15,1644.17 956.12,1644.69 960.1,1645.18 964.08,1645.66 968.05,1646.11 972.02,1646.54 976,1646.95 979.98,1647.35 983.95,1647.72 987.93,1648.07 991.9,1648.4 995.88,1648.72 999.85,1649.02 1003.83,1649.3 1007.8,1649.56 1011.77,1649.8 1015.75,1650.03 1019.73,1650.24 1023.7,1650.44 1027.68,1650.62 1031.65,1650.79 1035.62,1650.94 1039.6,1651.07 1043.58,1651.2 1047.55,1651.3 1051.53,1651.4 1055.5,1651.48 1059.47,1651.55 1063.45,1651.61 1067.43,1651.65 1071.4,1651.69 1075.38,1651.71 1079.35,1651.72 1083.33,1651.73 1087.3,1651.72 1091.28,1651.7 1095.25,1651.68 1099.22,1651.64 1103.2,1651.6 1107.18,1651.54 1111.15,1651.48 1115.12,1651.42 1119.1,1651.34 1123.08,1651.26 1127.05,1651.18 1131.03,1651.08 1135,1650.98"/>
</g>
<text class="t" x="161" y="1082.7" text-anchor="end">4.5</text>
<text class="t" x="161" y="1276.6" text-anchor="end">4.0</text>
<text class="t" x="161" y="1470.5" text-anchor="end">3.5</text>
<text class="t" x="161" y="1664.4" text-anchor="end">3.0</text>
<text class="t" x="178.4" y="1791.3" text-anchor="middle">4.0</text>
<text class="t" x="416.9" y="1791.3" text-anchor="middle">4.5</text>
<text class="t" x="655.4" y="1791.3" text-anchor="middle">5.0</text>
<text class="t" x="893.9" y="1791.3" text-anchor="middle">5.5</text>
<text class="t" x="1132.4" y="1791.3" text-anchor="middle">6.0</text>
<text class="xl" x="655.4" y="1848.8" text-anchor="middle">h(nm)</text>
<text transform="translate(63.4,1450.3) rotate(-90)" x="0" y="0">M<tspan class="sm" dx="-0.6" dy="7.8">34</tspan><tspan dx="1.7 0.6" dy="-7.8">(10</tspan><tspan class="sm" dx="1.7" dy="-16.5">-28</tspan><tspan dx="3.4 0 -0.5 1.5 2.3" dy="16.5"> C.m)</tspan></text>
<text class="pl" x="347.6" y="1010.5" text-anchor="middle">(c)</text>
<line class="lg" stroke="#000000" x1="644.3" y1="1137" x2="722.3" y2="1137"/>
<text x="729.6" y="1150" dx="0 -1 -0.8 0 -0.3 -1.6 -2 -0.5 0" style="fill:#000000;stroke:#000000">F=5 kV/cm</text>
<line class="lg" stroke="#ff0000" x1="644.3" y1="1181.5" x2="722.3" y2="1181.5"/>
<text x="729.6" y="1194.5" dx="0 -1 -0.8 0 0 -0.3 -1.6 -2 -0.5 0" style="fill:#ff0000;stroke:#ff0000">F=10 kV/cm</text>
<line class="lg" stroke="#0000ff" x1="644.3" y1="1226" x2="722.3" y2="1226"/>
<text x="729.6" y="1239" dx="0 -1 -0.8 0 0 -0.3 -1.6 -2 -0.5 0" style="fill:#0000ff;stroke:#0000ff">F=15 kV/cm</text>
</g>
<g id="panel-d">
<clipPath id="clip-d"><rect x="1317.8" y="954.5" width="955" height="794.5"/></clipPath>
<line class="tk" x1="1318.3" y1="954.4" x2="1331.3" y2="954.4"/>
<line class="tk" x1="1318.3" y1="1166.3" x2="1331.3" y2="1166.3"/>
<line class="tk" x1="1318.3" y1="1378.1" x2="1331.3" y2="1378.1"/>
<line class="tk" x1="1318.3" y1="1590" x2="1331.3" y2="1590"/>
<line class="tk" x1="1318.3" y1="1060.3" x2="1325.3" y2="1060.3"/>
<line class="tk" x1="1318.3" y1="1272.2" x2="1325.3" y2="1272.2"/>
<line class="tk" x1="1318.3" y1="1484" x2="1325.3" y2="1484"/>
<line class="tk" x1="1318.3" y1="1696" x2="1325.3" y2="1696"/>
<line class="tk" x1="1318.3" y1="1749" x2="1318.3" y2="1736"/>
<line class="tk" x1="1437.55" y1="1749" x2="1437.55" y2="1742"/>
<line class="tk" x1="1556.8" y1="1749" x2="1556.8" y2="1736"/>
<line class="tk" x1="1676.05" y1="1749" x2="1676.05" y2="1742"/>
<line class="tk" x1="1795.3" y1="1749" x2="1795.3" y2="1736"/>
<line class="tk" x1="1914.55" y1="1749" x2="1914.55" y2="1742"/>
<line class="tk" x1="2033.8" y1="1749" x2="2033.8" y2="1736"/>
<line class="tk" x1="2153.05" y1="1749" x2="2153.05" y2="1742"/>
<line class="tk" x1="2272.3" y1="1749" x2="2272.3" y2="1736"/>
<rect class="fr" x="1318.3" y="954.5" width="954" height="794.5"/>
<g clip-path="url(#clip-d)">
<polyline class="cv" stroke="#000000" points="1318.3,1583 1322.27,1589.76 1326.25,1596.22 1330.22,1602.37 1334.2,1608.23 1338.17,1613.8 1342.15,1619.07 1346.12,1624.05 1350.1,1628.74 1354.08,1633.14 1358.05,1637.25 1362.02,1641.09 1366,1644.64 1369.97,1647.91 1373.95,1650.9 1377.92,1653.62 1381.9,1656.06 1385.88,1658.23 1389.85,1660.13 1393.83,1661.76 1397.8,1663.13 1401.78,1664.23 1405.75,1665.07 1409.72,1665.65 1413.7,1665.97 1417.67,1666.03 1421.65,1665.84 1425.62,1665.39 1429.6,1664.68 1433.58,1663.72 1437.55,1662.51 1441.53,1661.05 1445.5,1659.34 1449.47,1657.37 1453.45,1655.16 1457.42,1652.69 1461.4,1649.98 1465.38,1647.02 1469.35,1643.81 1473.33,1640.36 1477.3,1636.67 1481.28,1632.74 1485.25,1628.6 1489.22,1624.26 1493.2,1619.71 1497.17,1614.98 1501.15,1610.09 1505.12,1605.03 1509.1,1599.82 1513.08,1594.47 1517.05,1589 1521.03,1583.41 1525,1577.72 1528.97,1571.94 1532.95,1566.07 1536.92,1560.14 1540.9,1554.16 1544.88,1548.12 1548.85,1542.06 1552.83,1535.97 1556.8,1529.86 1560.78,1523.74 1564.75,1517.61 1568.72,1511.45 1572.7,1505.26 1576.67,1499.05 1580.65,1492.81 1584.62,1486.53 1588.6,1480.23 1592.58,1473.88 1596.55,1467.49 1600.53,1461.07 1604.5,1454.59 1608.47,1448.07 1612.45,1441.5 1616.42,1434.87 1620.4,1428.19 1624.38,1421.45 1628.35,1414.65 1632.33,1407.78 1636.3,1400.85 1640.28,1393.87 1644.25,1386.83 1648.22,1379.75 1652.2,1372.65 1656.17,1365.52 1660.15,1358.37 1664.12,1351.22 1668.1,1344.07 1672.08,1336.94 1676.05,1329.82 1680.03,1322.73 1684,1315.68 1687.97,1308.67 1691.95,1301.72 1695.93,1294.83 1699.9,1288.01 1703.88,1281.27 1707.85,1274.61 1711.83,1268.05 1715.8,1261.6 1719.78,1255.26 1723.75,1249.02 1727.73,1242.9 1731.7,1236.89 1735.68,1231 1739.65,1225.23 1743.62,1219.59 1747.6,1214.07 1751.58,1208.68 1755.55,1203.42 1759.53,1198.29 1763.5,1193.3 1767.48,1188.45 1771.45,1183.74 1775.43,1179.18 1779.4,1174.76 1783.38,1170.49 1787.35,1166.37 1791.33,1162.41 1795.3,1158.6 1799.28,1154.95 1803.25,1151.45 1807.23,1148.11 1811.2,1144.92 1815.18,1141.89 1819.15,1139 1823.12,1136.26 1827.1,1133.68 1831.08,1131.23 1835.05,1128.94 1839.03,1126.79 1843,1124.78 1846.98,1122.91 1850.95,1121.19 1854.93,1119.6 1858.9,1118.16 1862.88,1116.85 1866.85,1115.67 1870.83,1114.64 1874.8,1113.73 1878.78,1112.96 1882.75,1112.32 1886.73,1111.81 1890.7,1111.43 1894.68,1111.18 1898.65,1111.06 1902.62,1111.06 1906.6,1111.18 1910.58,1111.43 1914.55,1111.8 1918.53,1112.29 1922.5,1112.9 1926.48,1113.63 1930.45,1114.48 1934.43,1115.44 1938.4,1116.52 1942.38,1117.71 1946.35,1119.02 1950.33,1120.43 1954.3,1121.96 1958.28,1123.59 1962.25,1125.34 1966.23,1127.19 1970.2,1129.15 1974.18,1131.21 1978.15,1133.38 1982.12,1135.65 1986.1,1138.03 1990.08,1140.52 1994.05,1143.1 1998.03,1145.79 2002,1148.58 2005.98,1151.46 2009.95,1154.45 2013.93,1157.54 2017.9,1160.72 2021.88,1164 2025.85,1167.38 2029.83,1170.86 2033.8,1174.43 2037.78,1178.09 2041.75,1181.85 2045.73,1185.7 2049.7,1189.64 2053.68,1193.67 2057.65,1197.8 2061.62,1202.01 2065.6,1206.32 2069.58,1210.71 2073.55,1215.19 2077.53,1219.76 2081.5,1224.41 2085.48,1229.15 2089.45,1233.97 2093.43,1238.88 2097.4,1243.87 2101.38,1248.94 2105.35,1254.09 2109.33,1259.33 2113.3,1264.64 2117.28,1270.04 2121.25,1275.5 2125.23,1281.04 2129.2,1286.65 2133.18,1292.33 2137.15,1298.06 2141.12,1303.85 2145.1,1309.7 2149.08,1315.59 2153.05,1321.53 2157.03,1327.52 2161,1333.55 2164.98,1339.61 2168.95,1345.7 2172.93,1351.83 2176.9,1357.98 2180.88,1364.15 2184.85,1370.34 2188.83,1376.55 2192.8,1382.77 2196.78,1388.99 2200.75,1395.23 2204.73,1401.46 2208.7,1407.69 2212.68,1413.91 2216.65,1420.13 2220.62,1426.33 2224.6,1432.52 2228.58,1438.68 2232.55,1444.83 2236.53,1450.94 2240.5,1457.03 2244.48,1463.08 2248.45,1469.1 2252.43,1475.07 2256.4,1481 2260.38,1486.88 2264.35,1492.71 2268.33,1498.48 2272.3,1504.2"/>
<polyline class="cv" stroke="#ff0000" points="1318.3,1610.22 1322.27,1616.12 1326.25,1621.71 1330.22,1626.99 1334.2,1631.98 1338.17,1636.66 1342.15,1641.04 1346.12,1645.13 1350.1,1648.93 1354.08,1652.44 1358.05,1655.66 1362.02,1658.6 1366,1661.26 1369.97,1663.64 1373.95,1665.75 1377.92,1667.58 1381.9,1669.14 1385.88,1670.43 1389.85,1671.46 1393.83,1672.22 1397.8,1672.73 1401.78,1672.97 1405.75,1672.97 1409.72,1672.71 1413.7,1672.2 1417.67,1671.45 1421.65,1670.45 1425.62,1669.21 1429.6,1667.74 1433.58,1666.03 1437.55,1664.08 1441.53,1661.9 1445.5,1659.5 1449.47,1656.87 1453.45,1654.03 1457.42,1650.96 1461.4,1647.69 1465.38,1644.2 1469.35,1640.51 1473.33,1636.62 1477.3,1632.53 1481.28,1628.25 1485.25,1623.79 1489.22,1619.17 1493.2,1614.37 1497.17,1609.43 1501.15,1604.33 1505.12,1599.1 1509.1,1593.74 1513.08,1588.25 1517.05,1582.65 1521.03,1576.95 1525,1571.14 1528.97,1565.25 1532.95,1559.28 1536.92,1553.23 1540.9,1547.12 1544.88,1540.95 1548.85,1534.74 1552.83,1528.48 1556.8,1522.19 1560.78,1515.86 1564.75,1509.5 1568.72,1503.1 1572.7,1496.66 1576.67,1490.18 1580.65,1483.65 1584.62,1477.08 1588.6,1470.46 1592.58,1463.8 1596.55,1457.08 1600.53,1450.32 1604.5,1443.5 1608.47,1436.63 1612.45,1429.7 1616.42,1422.72 1620.4,1415.68 1624.38,1408.57 1628.35,1401.41 1632.33,1394.18 1636.3,1386.89 1640.28,1379.54 1644.25,1372.15 1648.22,1364.72 1652.2,1357.27 1656.17,1349.8 1660.15,1342.33 1664.12,1334.86 1668.1,1327.4 1672.08,1319.96 1676.05,1312.55 1680.03,1305.19 1684,1297.88 1687.97,1290.62 1691.95,1283.44 1695.93,1276.34 1699.9,1269.32 1703.88,1262.41 1707.85,1255.6 1711.83,1248.91 1715.8,1242.35 1719.78,1235.92 1723.75,1229.61 1727.73,1223.43 1731.7,1217.39 1735.68,1211.47 1739.65,1205.68 1743.62,1200.03 1747.6,1194.5 1751.58,1189.11 1755.55,1183.85 1759.53,1178.72 1763.5,1173.73 1767.48,1168.87 1771.45,1164.14 1775.43,1159.55 1779.4,1155.1 1783.38,1150.78 1787.35,1146.59 1791.33,1142.54 1795.3,1138.63 1799.28,1134.85 1803.25,1131.22 1807.23,1127.72 1811.2,1124.36 1815.18,1121.14 1819.15,1118.05 1823.12,1115.11 1827.1,1112.31 1831.08,1109.65 1835.05,1107.13 1839.03,1104.75 1843,1102.51 1846.98,1100.42 1850.95,1098.47 1854.93,1096.66 1858.9,1095 1862.88,1093.48 1866.85,1092.11 1870.83,1090.88 1874.8,1089.79 1878.78,1088.85 1882.75,1088.06 1886.73,1087.4 1890.7,1086.88 1894.68,1086.5 1898.65,1086.25 1902.62,1086.14 1906.6,1086.15 1910.58,1086.3 1914.55,1086.57 1918.53,1086.96 1922.5,1087.48 1926.48,1088.12 1930.45,1088.87 1934.43,1089.75 1938.4,1090.73 1942.38,1091.83 1946.35,1093.04 1950.33,1094.36 1954.3,1095.79 1958.28,1097.32 1962.25,1098.95 1966.23,1100.69 1970.2,1102.53 1974.18,1104.48 1978.15,1106.52 1982.12,1108.67 1986.1,1110.92 1990.08,1113.27 1994.05,1115.72 1998.03,1118.27 2002,1120.92 2005.98,1123.66 2009.95,1126.51 2013.93,1129.44 2017.9,1132.48 2021.88,1135.61 2025.85,1138.83 2029.83,1142.15 2033.8,1145.56 2037.78,1149.07 2041.75,1152.66 2045.73,1156.35 2049.7,1160.13 2053.68,1164 2057.65,1167.96 2061.62,1172.01 2065.6,1176.14 2069.58,1180.37 2073.55,1184.68 2077.53,1189.08 2081.5,1193.56 2085.48,1198.13 2089.45,1202.78 2093.43,1207.52 2097.4,1212.34 2101.38,1217.24 2105.35,1222.23 2109.33,1227.3 2113.3,1232.44 2117.28,1237.67 2121.25,1242.97 2125.23,1248.35 2129.2,1253.8 2133.18,1259.31 2137.15,1264.88 2141.12,1270.51 2145.1,1276.2 2149.08,1281.94 2153.05,1287.73 2157.03,1293.56 2161,1299.44 2164.98,1305.36 2168.95,1311.31 2172.93,1317.29 2176.9,1323.31 2180.88,1329.34 2184.85,1335.4 2188.83,1341.48 2192.8,1347.58 2196.78,1353.68 2200.75,1359.8 2204.73,1365.92 2208.7,1372.04 2212.68,1378.16 2216.65,1384.28 2220.62,1390.39 2224.6,1396.48 2228.58,1402.56 2232.55,1408.62 2236.53,1414.67 2240.5,1420.68 2244.48,1426.67 2248.45,1432.62 2252.43,1438.54 2256.4,1444.43 2260.38,1450.27 2264.35,1456.06 2268.33,1461.81 2272.3,1467.5"/>
<polyline class="cv" stroke="#0000ff" points="1318.3,1639.73 1322.27,1644.74 1326.25,1649.43 1330.22,1653.8 1334.2,1657.85 1338.17,1661.58 1342.15,1665 1346.12,1668.11 1350.1,1670.92 1354.08,1673.44 1358.05,1675.67 1362.02,1677.6 1366,1679.26 1369.97,1680.63 1373.95,1681.74 1377.92,1682.57 1381.9,1683.14 1385.88,1683.45 1389.85,1683.5 1393.83,1683.3 1397.8,1682.86 1401.78,1682.18 1405.75,1681.25 1409.72,1680.1 1413.7,1678.72 1417.67,1677.11 1421.65,1675.29 1425.62,1673.25 1429.6,1671 1433.58,1668.55 1437.55,1665.89 1441.53,1663.05 1445.5,1660.01 1449.47,1656.78 1453.45,1653.37 1457.42,1649.78 1461.4,1646.01 1465.38,1642.08 1469.35,1637.98 1473.33,1633.71 1477.3,1629.29 1481.28,1624.71 1485.25,1619.98 1489.22,1615.11 1493.2,1610.09 1497.17,1604.93 1501.15,1599.64 1505.12,1594.22 1509.1,1588.68 1513.08,1583.01 1517.05,1577.22 1521.03,1571.32 1525,1565.31 1528.97,1559.2 1532.95,1552.98 1536.92,1546.66 1540.9,1540.25 1544.88,1533.75 1548.85,1527.17 1552.83,1520.5 1556.8,1513.76 1560.78,1506.94 1564.75,1500.06 1568.72,1493.11 1572.7,1486.1 1576.67,1479.03 1580.65,1471.91 1584.62,1464.74 1588.6,1457.52 1592.58,1450.27 1596.55,1442.97 1600.53,1435.65 1604.5,1428.29 1608.47,1420.92 1612.45,1413.52 1616.42,1406.1 1620.4,1398.67 1624.38,1391.24 1628.35,1383.8 1632.33,1376.36 1636.3,1368.92 1640.28,1361.5 1644.25,1354.08 1648.22,1346.68 1652.2,1339.3 1656.17,1331.95 1660.15,1324.62 1664.12,1317.33 1668.1,1310.07 1672.08,1302.85 1676.05,1295.68 1680.03,1288.56 1684,1281.49 1687.97,1274.47 1691.95,1267.52 1695.93,1260.63 1699.9,1253.81 1703.88,1247.07 1707.85,1240.4 1711.83,1233.81 1715.8,1227.31 1719.78,1220.9 1723.75,1214.58 1727.73,1208.35 1731.7,1202.21 1735.68,1196.17 1739.65,1190.24 1743.62,1184.41 1747.6,1178.68 1751.58,1173.07 1755.55,1167.56 1759.53,1162.17 1763.5,1156.89 1767.48,1151.74 1771.45,1146.7 1775.43,1141.79 1779.4,1137.01 1783.38,1132.36 1787.35,1127.84 1791.33,1123.45 1795.3,1119.2 1799.28,1115.09 1803.25,1111.12 1807.23,1107.3 1811.2,1103.62 1815.18,1100.1 1819.15,1096.72 1823.12,1093.51 1827.1,1090.45 1831.08,1087.55 1835.05,1084.81 1839.03,1082.24 1843,1079.83 1846.98,1077.58 1850.95,1075.48 1854.93,1073.54 1858.9,1071.76 1862.88,1070.13 1866.85,1068.65 1870.83,1067.33 1874.8,1066.15 1878.78,1065.12 1882.75,1064.24 1886.73,1063.49 1890.7,1062.89 1894.68,1062.42 1898.65,1062.09 1902.62,1061.88 1906.6,1061.81 1910.58,1061.86 1914.55,1062.04 1918.53,1062.34 1922.5,1062.76 1926.48,1063.3 1930.45,1063.96 1934.43,1064.74 1938.4,1065.62 1942.38,1066.63 1946.35,1067.74 1950.33,1068.96 1954.3,1070.28 1958.28,1071.72 1962.25,1073.26 1966.23,1074.9 1970.2,1076.64 1974.18,1078.49 1978.15,1080.44 1982.12,1082.5 1986.1,1084.65 1990.08,1086.9 1994.05,1089.25 1998.03,1091.7 2002,1094.25 2005.98,1096.9 2009.95,1099.64 2013.93,1102.48 2017.9,1105.41 2021.88,1108.44 2025.85,1111.56 2029.83,1114.77 2033.8,1118.08 2037.78,1121.48 2041.75,1124.96 2045.73,1128.54 2049.7,1132.21 2053.68,1135.96 2057.65,1139.8 2061.62,1143.73 2065.6,1147.75 2069.58,1151.85 2073.55,1156.04 2077.53,1160.31 2081.5,1164.66 2085.48,1169.1 2089.45,1173.62 2093.43,1178.22 2097.4,1182.9 2101.38,1187.65 2105.35,1192.49 2109.33,1197.41 2113.3,1202.41 2117.28,1207.48 2121.25,1212.62 2125.23,1217.83 2129.2,1223.11 2133.18,1228.46 2137.15,1233.86 2141.12,1239.33 2145.1,1244.84 2149.08,1250.41 2153.05,1256.03 2157.03,1261.69 2161,1267.39 2164.98,1273.13 2168.95,1278.91 2172.93,1284.72 2176.9,1290.56 2180.88,1296.43 2184.85,1302.32 2188.83,1308.23 2192.8,1314.15 2196.78,1320.09 2200.75,1326.05 2204.73,1332.01 2208.7,1337.97 2212.68,1343.94 2216.65,1349.9 2220.62,1355.86 2224.6,1361.82 2228.58,1367.76 2232.55,1373.69 2236.53,1379.6 2240.5,1385.49 2244.48,1391.36 2248.45,1397.2 2252.43,1403.01 2256.4,1408.79 2260.38,1414.53 2264.35,1420.24 2268.33,1425.9 2272.3,1431.52"/>
</g>
<text class="t" x="1298.3" y="966.5" text-anchor="end">2.8</text>
<text class="t" x="1298.3" y="1178.4" text-anchor="end">2.6</text>
<text class="t" x="1298.3" y="1390.2" text-anchor="end">2.4</text>
<text class="t" x="1298.3" y="1602.1" text-anchor="end">2.2</text>
<text class="t" x="1315.7" y="1791.3" text-anchor="middle">4.0</text>
<text class="t" x="1554.2" y="1791.3" text-anchor="middle">4.5</text>
<text class="t" x="1792.7" y="1791.3" text-anchor="middle">5.0</text>
<text class="t" x="2031.2" y="1791.3" text-anchor="middle">5.5</text>
<text class="t" x="2269.7" y="1791.3" text-anchor="middle">6.0</text>
<text class="xl" x="1792.7" y="1848.8" text-anchor="middle">h(nm)</text>
<text transform="translate(1200.5,1450.3) rotate(-90)" x="0" y="0">M<tspan class="sm" dx="-0.6" dy="7.8">13</tspan><tspan dx="1.7 0.6" dy="-7.8">(10</tspan><tspan class="sm" dx="1.7" dy="-16.5">-33</tspan><tspan dx="3.4 0 -0.5 1.5 2.3" dy="16.5"> C.m)</tspan></text>
<text class="pl" x="1408.5" y="1026.3" text-anchor="middle">(d)</text>
<line class="lg" stroke="#000000" x1="1768.2" y1="1333.4" x2="1846.2" y2="1333.4"/>
<text x="1853.5" y="1346.4" dx="0 -1 -0.8 0 -0.3 -1.6 -2 -0.5 0" style="fill:#000000;stroke:#000000">F=5 kV/cm</text>
<line class="lg" stroke="#ff0000" x1="1768.2" y1="1377.9" x2="1846.2" y2="1377.9"/>
<text x="1853.5" y="1390.9" dx="0 -1 -0.8 0 0 -0.3 -1.6 -2 -0.5 0" style="fill:#ff0000;stroke:#ff0000">F=10 kV/cm</text>
<line class="lg" stroke="#0000ff" x1="1768.2" y1="1422.4" x2="1846.2" y2="1422.4"/>
<text x="1853.5" y="1435.4" dx="0 -1 -0.8 0 0 -0.3 -1.6 -2 -0.5 0" style="fill:#0000ff;stroke:#0000ff">F=15 kV/cm</text>
</g>
<g id="panel-e">
<clipPath id="clip-e"><rect x="804.9" y="1888.4" width="955" height="795.6"/></clipPath>
<line class="tk" x1="805.4" y1="1889.35" x2="818.4" y2="1889.35"/>
<line class="tk" x1="805.4" y1="2088.2" x2="818.4" y2="2088.2"/>
<line class="tk" x1="805.4" y1="2287" x2="818.4" y2="2287"/>
<line class="tk" x1="805.4" y1="2485.9" x2="818.4" y2="2485.9"/>
<line class="tk" x1="805.4" y1="2684" x2="818.4" y2="2684"/>
<line class="tk" x1="805.4" y1="1988.8" x2="812.4" y2="1988.8"/>
<line class="tk" x1="805.4" y1="2187.6" x2="812.4" y2="2187.6"/>
<line class="tk" x1="805.4" y1="2386.5" x2="812.4" y2="2386.5"/>
<line class="tk" x1="805.4" y1="2585.3" x2="812.4" y2="2585.3"/>
<line class="tk" x1="805.4" y1="2684" x2="805.4" y2="2671"/>
<line class="tk" x1="924.65" y1="2684" x2="924.65" y2="2677"/>
<line class="tk" x1="1043.9" y1="2684" x2="1043.9" y2="2671"/>
<line class="tk" x1="1163.15" y1="2684" x2="1163.15" y2="2677"/>
<line class="tk" x1="1282.4" y1="2684" x2="1282.4" y2="2671"/>
<line class="tk" x1="1401.65" y1="2684" x2="1401.65" y2="2677"/>
<line class="tk" x1="1520.9" y1="2684" x2="1520.9" y2="2671"/>
<line class="tk" x1="1640.15" y1="2684" x2="1640.15" y2="2677"/>
<line class="tk" x1="1759.4" y1="2684" x2="1759.4" y2="2671"/>
<rect class="fr" x="805.4" y="1888.4" width="954" height="795.6"/>
<g clip-path="url(#clip-e)">
<polyline class="cv" stroke="#000000" points="805.4,1945.38 809.38,1949.16 813.35,1953 817.32,1956.9 821.3,1960.86 825.27,1964.87 829.25,1968.95 833.23,1973.07 837.2,1977.26 841.17,1981.49 845.15,1985.78 849.12,1990.12 853.1,1994.51 857.07,1998.95 861.05,2003.43 865.02,2007.96 869,2012.53 872.98,2017.15 876.95,2021.81 880.92,2026.51 884.9,2031.25 888.88,2036.03 892.85,2040.85 896.83,2045.7 900.8,2050.59 904.77,2055.51 908.75,2060.47 912.73,2065.45 916.7,2070.47 920.67,2075.51 924.65,2080.59 928.62,2085.69 932.6,2090.81 936.58,2095.96 940.55,2101.13 944.52,2106.32 948.5,2111.54 952.48,2116.77 956.45,2122.02 960.42,2127.29 964.4,2132.57 968.38,2137.87 972.35,2143.18 976.33,2148.5 980.3,2153.84 984.27,2159.18 988.25,2164.53 992.23,2169.89 996.2,2175.26 1000.17,2180.63 1004.15,2186 1008.12,2191.37 1012.1,2196.75 1016.08,2202.13 1020.05,2207.5 1024.03,2212.87 1028,2218.24 1031.97,2223.61 1035.95,2228.96 1039.92,2234.31 1043.9,2239.66 1047.88,2244.99 1051.85,2250.31 1055.83,2255.62 1059.8,2260.91 1063.78,2266.19 1067.75,2271.46 1071.72,2276.71 1075.7,2281.93 1079.67,2287.14 1083.65,2292.33 1087.62,2297.5 1091.6,2302.64 1095.58,2307.76 1099.55,2312.86 1103.53,2317.93 1107.5,2322.97 1111.47,2327.98 1115.45,2332.96 1119.42,2337.9 1123.4,2342.82 1127.38,2347.7 1131.35,2352.55 1135.33,2357.36 1139.3,2362.13 1143.28,2366.87 1147.25,2371.57 1151.22,2376.23 1155.2,2380.85 1159.17,2385.43 1163.15,2389.97 1167.12,2394.46 1171.1,2398.91 1175.08,2403.32 1179.05,2407.68 1183.03,2411.99 1187,2416.26 1190.97,2420.48 1194.95,2424.65 1198.92,2428.76 1202.9,2432.83 1206.88,2436.85 1210.85,2440.81 1214.83,2444.72 1218.8,2448.57 1222.78,2452.37 1226.75,2456.11 1230.72,2459.8 1234.7,2463.43 1238.67,2466.99 1242.65,2470.5 1246.62,2473.95 1250.6,2477.33 1254.58,2480.65 1258.55,2483.91 1262.53,2487.1 1266.5,2490.23 1270.47,2493.29 1274.45,2496.28 1278.43,2499.21 1282.4,2502.06 1286.38,2504.85 1290.35,2507.57 1294.33,2510.22 1298.3,2512.8 1302.28,2515.31 1306.25,2517.75 1310.22,2520.13 1314.2,2522.44 1318.18,2524.68 1322.15,2526.86 1326.12,2528.97 1330.1,2531.01 1334.08,2532.99 1338.05,2534.9 1342.03,2536.75 1346,2538.53 1349.97,2540.25 1353.95,2541.91 1357.93,2543.5 1361.9,2545.02 1365.88,2546.49 1369.85,2547.89 1373.83,2549.23 1377.8,2550.51 1381.78,2551.73 1385.75,2552.89 1389.72,2553.99 1393.7,2555.03 1397.68,2556.01 1401.65,2556.94 1405.62,2557.81 1409.6,2558.62 1413.58,2559.38 1417.55,2560.08 1421.53,2560.73 1425.5,2561.32 1429.47,2561.86 1433.45,2562.35 1437.43,2562.79 1441.4,2563.17 1445.38,2563.5 1449.35,2563.79 1453.33,2564.02 1457.3,2564.21 1461.28,2564.35 1465.25,2564.44 1469.22,2564.48 1473.2,2564.47 1477.18,2564.42 1481.15,2564.33 1485.12,2564.19 1489.1,2564.01 1493.08,2563.78 1497.05,2563.51 1501.03,2563.2 1505,2562.85 1508.97,2562.45 1512.95,2562.02 1516.93,2561.54 1520.9,2561.03 1524.88,2560.48 1528.85,2559.89 1532.83,2559.26 1536.8,2558.6 1540.78,2557.9 1544.75,2557.16 1548.72,2556.39 1552.7,2555.59 1556.68,2554.75 1560.65,2553.88 1564.62,2552.98 1568.6,2552.04 1572.58,2551.08 1576.55,2550.08 1580.53,2549.06 1584.5,2548 1588.48,2546.92 1592.45,2545.81 1596.43,2544.67 1600.4,2543.5 1604.38,2542.31 1608.35,2541.09 1612.33,2539.84 1616.3,2538.58 1620.28,2537.29 1624.25,2535.97 1628.23,2534.63 1632.2,2533.27 1636.18,2531.89 1640.15,2530.49 1644.12,2529.07 1648.1,2527.63 1652.08,2526.17 1656.05,2524.69 1660.03,2523.2 1664,2521.68 1667.98,2520.16 1671.95,2518.61 1675.93,2517.05 1679.9,2515.47 1683.88,2513.89 1687.85,2512.28 1691.83,2510.67 1695.8,2509.04 1699.78,2507.4 1703.75,2505.75 1707.73,2504.09 1711.7,2502.42 1715.68,2500.75 1719.65,2499.06 1723.62,2497.36 1727.6,2495.66 1731.58,2493.95 1735.55,2492.24 1739.53,2490.52 1743.5,2488.79 1747.48,2487.06 1751.45,2485.33 1755.43,2483.59 1759.4,2481.85"/>
<polyline class="cv" stroke="#ff0000" points="805.4,1971.29 809.38,1975.14 813.35,1979.04 817.32,1983 821.3,1987.02 825.27,1991.1 829.25,1995.23 833.23,1999.42 837.2,2003.66 841.17,2007.95 845.15,2012.29 849.12,2016.68 853.1,2021.11 857.07,2025.6 861.05,2030.13 865.02,2034.71 869,2039.32 872.98,2043.98 876.95,2048.69 880.92,2053.43 884.9,2058.21 888.88,2063.02 892.85,2067.88 896.83,2072.77 900.8,2077.69 904.77,2082.64 908.75,2087.63 912.73,2092.65 916.7,2097.7 920.67,2102.77 924.65,2107.87 928.62,2113 932.6,2118.15 936.58,2123.32 940.55,2128.52 944.52,2133.74 948.5,2138.98 952.48,2144.23 956.45,2149.5 960.42,2154.79 964.4,2160.1 968.38,2165.42 972.35,2170.75 976.33,2176.09 980.3,2181.44 984.27,2186.8 988.25,2192.17 992.23,2197.55 996.2,2202.93 1000.17,2208.32 1004.15,2213.71 1008.12,2219.1 1012.1,2224.49 1016.08,2229.88 1020.05,2235.28 1024.03,2240.66 1028,2246.05 1031.97,2251.43 1035.95,2256.8 1039.92,2262.16 1043.9,2267.52 1047.88,2272.87 1051.85,2278.2 1055.83,2283.53 1059.8,2288.84 1063.78,2294.14 1067.75,2299.42 1071.72,2304.68 1075.7,2309.92 1079.67,2315.15 1083.65,2320.36 1087.62,2325.54 1091.6,2330.7 1095.58,2335.84 1099.55,2340.95 1103.53,2346.04 1107.5,2351.1 1111.47,2356.13 1115.45,2361.13 1119.42,2366.1 1123.4,2371.03 1127.38,2375.94 1131.35,2380.81 1135.33,2385.64 1139.3,2390.44 1143.28,2395.2 1147.25,2399.92 1151.22,2404.61 1155.2,2409.25 1159.17,2413.85 1163.15,2418.41 1167.12,2422.93 1171.1,2427.4 1175.08,2431.83 1179.05,2436.22 1183.03,2440.55 1187,2444.84 1190.97,2449.08 1194.95,2453.27 1198.92,2457.4 1202.9,2461.49 1206.88,2465.52 1210.85,2469.5 1214.83,2473.43 1218.8,2477.3 1222.78,2481.11 1226.75,2484.86 1230.72,2488.56 1234.7,2492.19 1238.67,2495.77 1242.65,2499.28 1246.62,2502.73 1250.6,2506.12 1254.58,2509.44 1258.55,2512.7 1262.53,2515.89 1266.5,2519.01 1270.47,2522.06 1274.45,2525.05 1278.43,2527.96 1282.4,2530.8 1286.38,2533.57 1290.35,2536.27 1294.33,2538.9 1298.3,2541.46 1302.28,2543.95 1306.25,2546.37 1310.22,2548.73 1314.2,2551.02 1318.18,2553.24 1322.15,2555.39 1326.12,2557.48 1330.1,2559.51 1334.08,2561.47 1338.05,2563.36 1342.03,2565.2 1346,2566.97 1349.97,2568.68 1353.95,2570.33 1357.93,2571.92 1361.9,2573.45 1365.88,2574.92 1369.85,2576.33 1373.83,2577.69 1377.8,2578.98 1381.78,2580.22 1385.75,2581.4 1389.72,2582.53 1393.7,2583.6 1397.68,2584.61 1401.65,2585.57 1405.62,2586.48 1409.6,2587.33 1413.58,2588.13 1417.55,2588.87 1421.53,2589.56 1425.5,2590.2 1429.47,2590.79 1433.45,2591.33 1437.43,2591.81 1441.4,2592.25 1445.38,2592.63 1449.35,2592.97 1453.33,2593.26 1457.3,2593.49 1461.28,2593.69 1465.25,2593.83 1469.22,2593.92 1473.2,2593.97 1477.18,2593.98 1481.15,2593.93 1485.12,2593.85 1489.1,2593.71 1493.08,2593.54 1497.05,2593.32 1501.03,2593.05 1505,2592.75 1508.97,2592.4 1512.95,2592.01 1516.93,2591.57 1520.9,2591.1 1524.88,2590.59 1528.85,2590.03 1532.83,2589.44 1536.8,2588.81 1540.78,2588.14 1544.75,2587.43 1548.72,2586.69 1552.7,2585.91 1556.68,2585.09 1560.65,2584.24 1564.62,2583.36 1568.6,2582.44 1572.58,2581.5 1576.55,2580.52 1580.53,2579.51 1584.5,2578.46 1588.48,2577.39 1592.45,2576.29 1596.43,2575.16 1600.4,2574.01 1604.38,2572.82 1608.35,2571.61 1612.33,2570.38 1616.3,2569.12 1620.28,2567.83 1624.25,2566.53 1628.23,2565.19 1632.2,2563.84 1636.18,2562.46 1640.15,2561.07 1644.12,2559.65 1648.1,2558.21 1652.08,2556.76 1656.05,2555.29 1660.03,2553.79 1664,2552.29 1667.98,2550.76 1671.95,2549.22 1675.93,2547.67 1679.9,2546.1 1683.88,2544.52 1687.85,2542.92 1691.83,2541.31 1695.8,2539.69 1699.78,2538.06 1703.75,2536.42 1707.73,2534.77 1711.7,2533.12 1715.68,2531.45 1719.65,2529.77 1723.62,2528.09 1727.6,2526.41 1731.58,2524.71 1735.55,2523.02 1739.53,2521.32 1743.5,2519.61 1747.48,2517.9 1751.45,2516.19 1755.43,2514.48 1759.4,2512.77"/>
<polyline class="cv" stroke="#0000ff" points="805.4,1995.92 809.38,1999.78 813.35,2003.72 817.32,2007.71 821.3,2011.75 825.27,2015.86 829.25,2020.02 833.23,2024.24 837.2,2028.51 841.17,2032.84 845.15,2037.22 849.12,2041.64 853.1,2046.12 857.07,2050.64 861.05,2055.21 865.02,2059.82 869,2064.48 872.98,2069.19 876.95,2073.93 880.92,2078.71 884.9,2083.54 888.88,2088.4 892.85,2093.3 896.83,2098.23 900.8,2103.2 904.77,2108.2 908.75,2113.24 912.73,2118.3 916.7,2123.39 920.67,2128.52 924.65,2133.67 928.62,2138.84 932.6,2144.04 936.58,2149.26 940.55,2154.51 944.52,2159.78 948.5,2165.06 952.48,2170.37 956.45,2175.69 960.42,2181.03 964.4,2186.38 968.38,2191.75 972.35,2197.13 976.33,2202.52 980.3,2207.92 984.27,2213.34 988.25,2218.75 992.23,2224.18 996.2,2229.61 1000.17,2235.04 1004.15,2240.48 1008.12,2245.92 1012.1,2251.35 1016.08,2256.79 1020.05,2262.23 1024.03,2267.66 1028,2273.09 1031.97,2278.51 1035.95,2283.93 1039.92,2289.33 1043.9,2294.73 1047.88,2300.12 1051.85,2305.49 1055.83,2310.86 1059.8,2316.21 1063.78,2321.54 1067.75,2326.85 1071.72,2332.15 1075.7,2337.43 1079.67,2342.69 1083.65,2347.93 1087.62,2353.14 1091.6,2358.34 1095.58,2363.5 1099.55,2368.64 1103.53,2373.75 1107.5,2378.84 1111.47,2383.89 1115.45,2388.91 1119.42,2393.9 1123.4,2398.86 1127.38,2403.78 1131.35,2408.66 1135.33,2413.51 1139.3,2418.32 1143.28,2423.1 1147.25,2427.83 1151.22,2432.53 1155.2,2437.18 1159.17,2441.79 1163.15,2446.36 1167.12,2450.89 1171.1,2455.37 1175.08,2459.8 1179.05,2464.19 1183.03,2468.53 1187,2472.83 1190.97,2477.07 1194.95,2481.27 1198.92,2485.41 1202.9,2489.5 1206.88,2493.54 1210.85,2497.52 1214.83,2501.45 1218.8,2505.33 1222.78,2509.15 1226.75,2512.91 1230.72,2516.61 1234.7,2520.26 1238.67,2523.84 1242.65,2527.36 1246.62,2530.82 1250.6,2534.22 1254.58,2537.56 1258.55,2540.83 1262.53,2544.03 1266.5,2547.17 1270.47,2550.24 1274.45,2553.24 1278.43,2556.18 1282.4,2559.04 1286.38,2561.84 1290.35,2564.56 1294.33,2567.22 1298.3,2569.8 1302.28,2572.32 1306.25,2574.77 1310.22,2577.16 1314.2,2579.48 1318.18,2581.73 1322.15,2583.92 1326.12,2586.05 1330.1,2588.11 1334.08,2590.1 1338.05,2592.04 1342.03,2593.91 1346,2595.72 1349.97,2597.47 1353.95,2599.15 1357.93,2600.78 1361.9,2602.35 1365.88,2603.86 1369.85,2605.31 1373.83,2606.7 1377.8,2608.04 1381.78,2609.32 1385.75,2610.54 1389.72,2611.7 1393.7,2612.81 1397.68,2613.86 1401.65,2614.86 1405.62,2615.8 1409.6,2616.69 1413.58,2617.52 1417.55,2618.3 1421.53,2619.03 1425.5,2619.71 1429.47,2620.33 1433.45,2620.9 1437.43,2621.42 1441.4,2621.88 1445.38,2622.3 1449.35,2622.67 1453.33,2622.99 1457.3,2623.25 1461.28,2623.47 1465.25,2623.64 1469.22,2623.76 1473.2,2623.84 1477.18,2623.87 1481.15,2623.85 1485.12,2623.78 1489.1,2623.67 1493.08,2623.51 1497.05,2623.31 1501.03,2623.06 1505,2622.77 1508.97,2622.43 1512.95,2622.05 1516.93,2621.63 1520.9,2621.16 1524.88,2620.66 1528.85,2620.11 1532.83,2619.52 1536.8,2618.89 1540.78,2618.22 1544.75,2617.51 1548.72,2616.77 1552.7,2615.99 1556.68,2615.17 1560.65,2614.32 1564.62,2613.43 1568.6,2612.51 1572.58,2611.55 1576.55,2610.57 1580.53,2609.55 1584.5,2608.5 1588.48,2607.42 1592.45,2606.31 1596.43,2605.17 1600.4,2604.01 1604.38,2602.81 1608.35,2601.59 1612.33,2600.35 1616.3,2599.08 1620.28,2597.79 1624.25,2596.47 1628.23,2595.13 1632.2,2593.77 1636.18,2592.39 1640.15,2590.98 1644.12,2589.56 1648.1,2588.12 1652.08,2586.66 1656.05,2585.18 1660.03,2583.69 1664,2582.18 1667.98,2580.66 1671.95,2579.12 1675.93,2577.57 1679.9,2576 1683.88,2574.42 1687.85,2572.84 1691.83,2571.24 1695.8,2569.63 1699.78,2568.01 1703.75,2566.38 1707.73,2564.75 1711.7,2563.11 1715.68,2561.46 1719.65,2559.81 1723.62,2558.16 1727.6,2556.5 1731.58,2554.83 1735.55,2553.17 1739.53,2551.5 1743.5,2549.83 1747.48,2548.17 1751.45,2546.5 1755.43,2544.83 1759.4,2543.17"/>
</g>
<text class="t" x="785.4" y="1901.45" text-anchor="end">1.35</text>
<text class="t" x="785.4" y="2100.3" text-anchor="end">1.20</text>
<text class="t" x="785.4" y="2299.1" text-anchor="end">1.05</text>
<text class="t" x="785.4" y="2498" text-anchor="end">0.90</text>
<text class="t" x="785.4" y="2696.1" text-anchor="end">0.75</text>
<text class="t" x="802.8" y="2726.3" text-anchor="middle">4.0</text>
<text class="t" x="1041.3" y="2726.3" text-anchor="middle">4.5</text>
<text class="t" x="1279.8" y="2726.3" text-anchor="middle">5.0</text>
<text class="t" x="1518.3" y="2726.3" text-anchor="middle">5.5</text>
<text class="t" x="1756.8" y="2726.3" text-anchor="middle">6.0</text>
<text class="xl" x="1279.8" y="2783.8" text-anchor="middle">h(nm)</text>
<text transform="translate(669.7,2384.5) rotate(-90)" x="0" y="0">M<tspan class="sm" dx="-0.6" dy="7.8">14</tspan><tspan dx="1.7 0.6" dy="-7.8">(10</tspan><tspan class="sm" dx="1.7" dy="-16.5">-29</tspan><tspan dx="3.4 0 -0.5 1.5 2.3" dy="16.5"> C.m)</tspan></text>
<text class="pl" x="876" y="1950.5" text-anchor="middle">(e)</text>
<line class="lg" stroke="#000000" x1="1169.2" y1="2089" x2="1247.2" y2="2089"/>
<text x="1254.5" y="2102" dx="0 -1 -0.8 0 -0.3 -1.6 -2 -0.5 0" style="fill:#000000;stroke:#000000">F=5 kV/cm</text>
<line class="lg" stroke="#ff0000" x1="1169.2" y1="2133.5" x2="1247.2" y2="2133.5"/>
<text x="1254.5" y="2146.5" dx="0 -1 -0.8 0 0 -0.3 -1.6 -2 -0.5 0" style="fill:#ff0000;stroke:#ff0000">F=10 kV/cm</text>
<line class="lg" stroke="#0000ff" x1="1169.2" y1="2178" x2="1247.2" y2="2178"/>
<text x="1254.5" y="2191" dx="0 -1 -0.8 0 0 -0.3 -1.6 -2 -0.5 0" style="fill:#0000ff;stroke:#0000ff">F=15 kV/cm</text>
</g>
</svg>
</body></html>
